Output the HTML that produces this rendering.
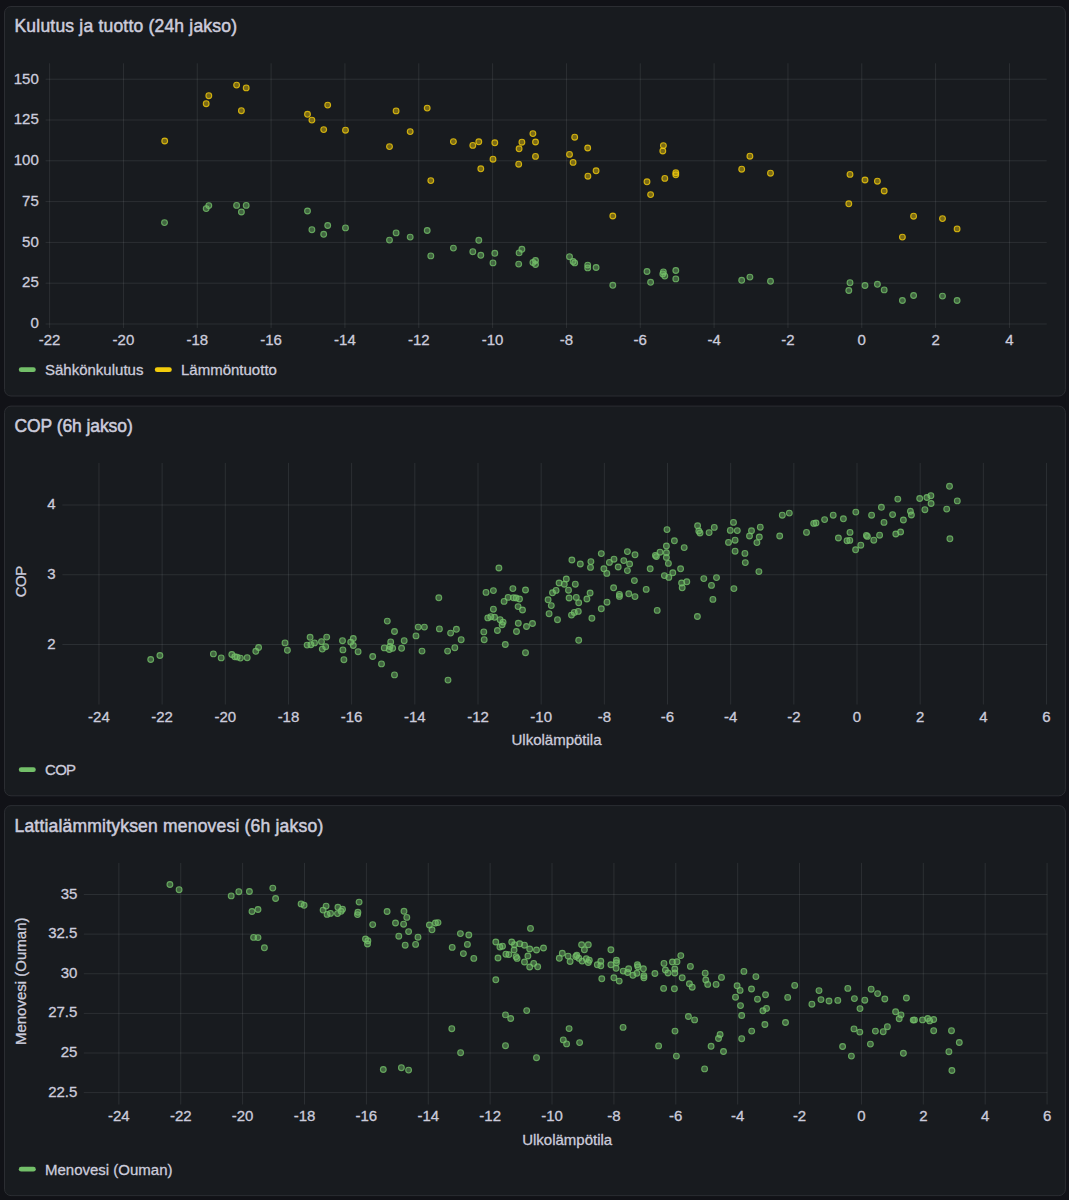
<!DOCTYPE html>
<html><head><meta charset="utf-8"><style>
html,body{margin:0;padding:0;background:#111217;width:1069px;height:1200px;overflow:hidden}
svg{display:block;font-family:"Liberation Sans", sans-serif}
text{fill:#ccccdc;stroke:#ccccdc;stroke-width:0.3px}
.ttl{stroke-width:0.5px}
</style></head><body>
<svg width="1069" height="1200" viewBox="0 0 1069 1200">
<rect x="4.5" y="6.5" width="1060.9" height="389.5" rx="6.5" ry="6.5" fill="#181b1f" stroke="#2b2d32" stroke-width="1"/>
<text x="14.5" y="31.8" font-size="17.5" letter-spacing="0.2" class="ttl">Kulutus ja tuotto (24h jakso)</text>
<line x1="49.60" y1="63.30" x2="49.60" y2="328.00" stroke="rgba(240,250,255,0.09)" stroke-width="1"/>
<text x="49.60" y="344.50" text-anchor="middle" font-size="15" >-22</text>
<line x1="123.43" y1="63.30" x2="123.43" y2="328.00" stroke="rgba(240,250,255,0.09)" stroke-width="1"/>
<text x="123.43" y="344.50" text-anchor="middle" font-size="15" >-20</text>
<line x1="197.26" y1="63.30" x2="197.26" y2="328.00" stroke="rgba(240,250,255,0.09)" stroke-width="1"/>
<text x="197.26" y="344.50" text-anchor="middle" font-size="15" >-18</text>
<line x1="271.10" y1="63.30" x2="271.10" y2="328.00" stroke="rgba(240,250,255,0.09)" stroke-width="1"/>
<text x="271.10" y="344.50" text-anchor="middle" font-size="15" >-16</text>
<line x1="344.93" y1="63.30" x2="344.93" y2="328.00" stroke="rgba(240,250,255,0.09)" stroke-width="1"/>
<text x="344.93" y="344.50" text-anchor="middle" font-size="15" >-14</text>
<line x1="418.77" y1="63.30" x2="418.77" y2="328.00" stroke="rgba(240,250,255,0.09)" stroke-width="1"/>
<text x="418.77" y="344.50" text-anchor="middle" font-size="15" >-12</text>
<line x1="492.60" y1="63.30" x2="492.60" y2="328.00" stroke="rgba(240,250,255,0.09)" stroke-width="1"/>
<text x="492.60" y="344.50" text-anchor="middle" font-size="15" >-10</text>
<line x1="566.43" y1="63.30" x2="566.43" y2="328.00" stroke="rgba(240,250,255,0.09)" stroke-width="1"/>
<text x="566.43" y="344.50" text-anchor="middle" font-size="15" >-8</text>
<line x1="640.27" y1="63.30" x2="640.27" y2="328.00" stroke="rgba(240,250,255,0.09)" stroke-width="1"/>
<text x="640.27" y="344.50" text-anchor="middle" font-size="15" >-6</text>
<line x1="714.10" y1="63.30" x2="714.10" y2="328.00" stroke="rgba(240,250,255,0.09)" stroke-width="1"/>
<text x="714.10" y="344.50" text-anchor="middle" font-size="15" >-4</text>
<line x1="787.94" y1="63.30" x2="787.94" y2="328.00" stroke="rgba(240,250,255,0.09)" stroke-width="1"/>
<text x="787.94" y="344.50" text-anchor="middle" font-size="15" >-2</text>
<line x1="861.77" y1="63.30" x2="861.77" y2="328.00" stroke="rgba(240,250,255,0.09)" stroke-width="1"/>
<text x="861.77" y="344.50" text-anchor="middle" font-size="15" >0</text>
<line x1="935.60" y1="63.30" x2="935.60" y2="328.00" stroke="rgba(240,250,255,0.09)" stroke-width="1"/>
<text x="935.60" y="344.50" text-anchor="middle" font-size="15" >2</text>
<line x1="1009.44" y1="63.30" x2="1009.44" y2="328.00" stroke="rgba(240,250,255,0.09)" stroke-width="1"/>
<text x="1009.44" y="344.50" text-anchor="middle" font-size="15" >4</text>
<line x1="45.60" y1="323.99" x2="1046.70" y2="323.99" stroke="rgba(240,250,255,0.09)" stroke-width="1"/>
<text x="38.80" y="328.29" text-anchor="end" font-size="15" >0</text>
<line x1="45.60" y1="283.19" x2="1046.70" y2="283.19" stroke="rgba(240,250,255,0.09)" stroke-width="1"/>
<text x="38.80" y="287.49" text-anchor="end" font-size="15" >25</text>
<line x1="45.60" y1="242.40" x2="1046.70" y2="242.40" stroke="rgba(240,250,255,0.09)" stroke-width="1"/>
<text x="38.80" y="246.70" text-anchor="end" font-size="15" >50</text>
<line x1="45.60" y1="201.60" x2="1046.70" y2="201.60" stroke="rgba(240,250,255,0.09)" stroke-width="1"/>
<text x="38.80" y="205.90" text-anchor="end" font-size="15" >75</text>
<line x1="45.60" y1="160.80" x2="1046.70" y2="160.80" stroke="rgba(240,250,255,0.09)" stroke-width="1"/>
<text x="38.80" y="165.10" text-anchor="end" font-size="15" >100</text>
<line x1="45.60" y1="120.01" x2="1046.70" y2="120.01" stroke="rgba(240,250,255,0.09)" stroke-width="1"/>
<text x="38.80" y="124.31" text-anchor="end" font-size="15" >125</text>
<line x1="45.60" y1="79.21" x2="1046.70" y2="79.21" stroke="rgba(240,250,255,0.09)" stroke-width="1"/>
<text x="38.80" y="83.51" text-anchor="end" font-size="15" >150</text>
<circle cx="164.5" cy="222.6" r="2.9" fill="#73bf69" fill-opacity="0.45" stroke="#73bf69" stroke-opacity="0.8" stroke-width="1.1"/>
<circle cx="208.8" cy="205.6" r="2.9" fill="#73bf69" fill-opacity="0.45" stroke="#73bf69" stroke-opacity="0.8" stroke-width="1.1"/>
<circle cx="206.2" cy="208.6" r="2.9" fill="#73bf69" fill-opacity="0.45" stroke="#73bf69" stroke-opacity="0.8" stroke-width="1.1"/>
<circle cx="236.6" cy="205.4" r="2.9" fill="#73bf69" fill-opacity="0.45" stroke="#73bf69" stroke-opacity="0.8" stroke-width="1.1"/>
<circle cx="246.2" cy="205.4" r="2.9" fill="#73bf69" fill-opacity="0.45" stroke="#73bf69" stroke-opacity="0.8" stroke-width="1.1"/>
<circle cx="241.4" cy="212.0" r="2.9" fill="#73bf69" fill-opacity="0.45" stroke="#73bf69" stroke-opacity="0.8" stroke-width="1.1"/>
<circle cx="307.5" cy="211.0" r="2.9" fill="#73bf69" fill-opacity="0.45" stroke="#73bf69" stroke-opacity="0.8" stroke-width="1.1"/>
<circle cx="327.7" cy="225.5" r="2.9" fill="#73bf69" fill-opacity="0.45" stroke="#73bf69" stroke-opacity="0.8" stroke-width="1.1"/>
<circle cx="311.9" cy="229.7" r="2.9" fill="#73bf69" fill-opacity="0.45" stroke="#73bf69" stroke-opacity="0.8" stroke-width="1.1"/>
<circle cx="323.7" cy="234.3" r="2.9" fill="#73bf69" fill-opacity="0.45" stroke="#73bf69" stroke-opacity="0.8" stroke-width="1.1"/>
<circle cx="345.5" cy="227.9" r="2.9" fill="#73bf69" fill-opacity="0.45" stroke="#73bf69" stroke-opacity="0.8" stroke-width="1.1"/>
<circle cx="396.1" cy="232.9" r="2.9" fill="#73bf69" fill-opacity="0.45" stroke="#73bf69" stroke-opacity="0.8" stroke-width="1.1"/>
<circle cx="389.5" cy="240.1" r="2.9" fill="#73bf69" fill-opacity="0.45" stroke="#73bf69" stroke-opacity="0.8" stroke-width="1.1"/>
<circle cx="410.2" cy="237.1" r="2.9" fill="#73bf69" fill-opacity="0.45" stroke="#73bf69" stroke-opacity="0.8" stroke-width="1.1"/>
<circle cx="427.2" cy="230.5" r="2.9" fill="#73bf69" fill-opacity="0.45" stroke="#73bf69" stroke-opacity="0.8" stroke-width="1.1"/>
<circle cx="430.8" cy="255.9" r="2.9" fill="#73bf69" fill-opacity="0.45" stroke="#73bf69" stroke-opacity="0.8" stroke-width="1.1"/>
<circle cx="453.4" cy="248.1" r="2.9" fill="#73bf69" fill-opacity="0.45" stroke="#73bf69" stroke-opacity="0.8" stroke-width="1.1"/>
<circle cx="478.8" cy="240.3" r="2.9" fill="#73bf69" fill-opacity="0.45" stroke="#73bf69" stroke-opacity="0.8" stroke-width="1.1"/>
<circle cx="472.8" cy="251.7" r="2.9" fill="#73bf69" fill-opacity="0.45" stroke="#73bf69" stroke-opacity="0.8" stroke-width="1.1"/>
<circle cx="480.8" cy="255.3" r="2.9" fill="#73bf69" fill-opacity="0.45" stroke="#73bf69" stroke-opacity="0.8" stroke-width="1.1"/>
<circle cx="494.8" cy="253.3" r="2.9" fill="#73bf69" fill-opacity="0.45" stroke="#73bf69" stroke-opacity="0.8" stroke-width="1.1"/>
<circle cx="493.0" cy="262.9" r="2.9" fill="#73bf69" fill-opacity="0.45" stroke="#73bf69" stroke-opacity="0.8" stroke-width="1.1"/>
<circle cx="521.9" cy="249.3" r="2.9" fill="#73bf69" fill-opacity="0.45" stroke="#73bf69" stroke-opacity="0.8" stroke-width="1.1"/>
<circle cx="519.1" cy="252.9" r="2.9" fill="#73bf69" fill-opacity="0.45" stroke="#73bf69" stroke-opacity="0.8" stroke-width="1.1"/>
<circle cx="518.7" cy="264.1" r="2.9" fill="#73bf69" fill-opacity="0.45" stroke="#73bf69" stroke-opacity="0.8" stroke-width="1.1"/>
<circle cx="532.9" cy="262.5" r="2.9" fill="#73bf69" fill-opacity="0.45" stroke="#73bf69" stroke-opacity="0.8" stroke-width="1.1"/>
<circle cx="535.5" cy="260.5" r="2.9" fill="#73bf69" fill-opacity="0.45" stroke="#73bf69" stroke-opacity="0.8" stroke-width="1.1"/>
<circle cx="535.5" cy="264.5" r="2.9" fill="#73bf69" fill-opacity="0.45" stroke="#73bf69" stroke-opacity="0.8" stroke-width="1.1"/>
<circle cx="569.5" cy="256.7" r="2.9" fill="#73bf69" fill-opacity="0.45" stroke="#73bf69" stroke-opacity="0.8" stroke-width="1.1"/>
<circle cx="573.1" cy="261.5" r="2.9" fill="#73bf69" fill-opacity="0.45" stroke="#73bf69" stroke-opacity="0.8" stroke-width="1.1"/>
<circle cx="574.7" cy="262.9" r="2.9" fill="#73bf69" fill-opacity="0.45" stroke="#73bf69" stroke-opacity="0.8" stroke-width="1.1"/>
<circle cx="587.7" cy="265.1" r="2.9" fill="#73bf69" fill-opacity="0.45" stroke="#73bf69" stroke-opacity="0.8" stroke-width="1.1"/>
<circle cx="587.7" cy="267.9" r="2.9" fill="#73bf69" fill-opacity="0.45" stroke="#73bf69" stroke-opacity="0.8" stroke-width="1.1"/>
<circle cx="596.1" cy="267.5" r="2.9" fill="#73bf69" fill-opacity="0.45" stroke="#73bf69" stroke-opacity="0.8" stroke-width="1.1"/>
<circle cx="612.8" cy="285.3" r="2.9" fill="#73bf69" fill-opacity="0.45" stroke="#73bf69" stroke-opacity="0.8" stroke-width="1.1"/>
<circle cx="647.0" cy="271.5" r="2.9" fill="#73bf69" fill-opacity="0.45" stroke="#73bf69" stroke-opacity="0.8" stroke-width="1.1"/>
<circle cx="650.6" cy="282.3" r="2.9" fill="#73bf69" fill-opacity="0.45" stroke="#73bf69" stroke-opacity="0.8" stroke-width="1.1"/>
<circle cx="663.4" cy="271.9" r="2.9" fill="#73bf69" fill-opacity="0.45" stroke="#73bf69" stroke-opacity="0.8" stroke-width="1.1"/>
<circle cx="662.8" cy="273.9" r="2.9" fill="#73bf69" fill-opacity="0.45" stroke="#73bf69" stroke-opacity="0.8" stroke-width="1.1"/>
<circle cx="664.8" cy="276.1" r="2.9" fill="#73bf69" fill-opacity="0.45" stroke="#73bf69" stroke-opacity="0.8" stroke-width="1.1"/>
<circle cx="675.8" cy="270.5" r="2.9" fill="#73bf69" fill-opacity="0.45" stroke="#73bf69" stroke-opacity="0.8" stroke-width="1.1"/>
<circle cx="675.8" cy="278.9" r="2.9" fill="#73bf69" fill-opacity="0.45" stroke="#73bf69" stroke-opacity="0.8" stroke-width="1.1"/>
<circle cx="741.7" cy="280.3" r="2.9" fill="#73bf69" fill-opacity="0.45" stroke="#73bf69" stroke-opacity="0.8" stroke-width="1.1"/>
<circle cx="749.9" cy="277.1" r="2.9" fill="#73bf69" fill-opacity="0.45" stroke="#73bf69" stroke-opacity="0.8" stroke-width="1.1"/>
<circle cx="770.5" cy="281.3" r="2.9" fill="#73bf69" fill-opacity="0.45" stroke="#73bf69" stroke-opacity="0.8" stroke-width="1.1"/>
<circle cx="850.0" cy="282.7" r="2.9" fill="#73bf69" fill-opacity="0.45" stroke="#73bf69" stroke-opacity="0.8" stroke-width="1.1"/>
<circle cx="848.8" cy="290.5" r="2.9" fill="#73bf69" fill-opacity="0.45" stroke="#73bf69" stroke-opacity="0.8" stroke-width="1.1"/>
<circle cx="865.0" cy="285.5" r="2.9" fill="#73bf69" fill-opacity="0.45" stroke="#73bf69" stroke-opacity="0.8" stroke-width="1.1"/>
<circle cx="877.4" cy="284.3" r="2.9" fill="#73bf69" fill-opacity="0.45" stroke="#73bf69" stroke-opacity="0.8" stroke-width="1.1"/>
<circle cx="884.2" cy="289.9" r="2.9" fill="#73bf69" fill-opacity="0.45" stroke="#73bf69" stroke-opacity="0.8" stroke-width="1.1"/>
<circle cx="913.6" cy="295.5" r="2.9" fill="#73bf69" fill-opacity="0.45" stroke="#73bf69" stroke-opacity="0.8" stroke-width="1.1"/>
<circle cx="902.4" cy="300.5" r="2.9" fill="#73bf69" fill-opacity="0.45" stroke="#73bf69" stroke-opacity="0.8" stroke-width="1.1"/>
<circle cx="942.5" cy="296.1" r="2.9" fill="#73bf69" fill-opacity="0.45" stroke="#73bf69" stroke-opacity="0.8" stroke-width="1.1"/>
<circle cx="957.1" cy="300.5" r="2.9" fill="#73bf69" fill-opacity="0.45" stroke="#73bf69" stroke-opacity="0.8" stroke-width="1.1"/>
<circle cx="164.7" cy="141.0" r="2.9" fill="#f2cc0c" fill-opacity="0.45" stroke="#f2cc0c" stroke-opacity="0.8" stroke-width="1.1"/>
<circle cx="208.8" cy="95.7" r="2.9" fill="#f2cc0c" fill-opacity="0.45" stroke="#f2cc0c" stroke-opacity="0.8" stroke-width="1.1"/>
<circle cx="206.2" cy="103.7" r="2.9" fill="#f2cc0c" fill-opacity="0.45" stroke="#f2cc0c" stroke-opacity="0.8" stroke-width="1.1"/>
<circle cx="236.6" cy="85.1" r="2.9" fill="#f2cc0c" fill-opacity="0.45" stroke="#f2cc0c" stroke-opacity="0.8" stroke-width="1.1"/>
<circle cx="246.2" cy="87.9" r="2.9" fill="#f2cc0c" fill-opacity="0.45" stroke="#f2cc0c" stroke-opacity="0.8" stroke-width="1.1"/>
<circle cx="241.4" cy="110.7" r="2.9" fill="#f2cc0c" fill-opacity="0.45" stroke="#f2cc0c" stroke-opacity="0.8" stroke-width="1.1"/>
<circle cx="327.7" cy="105.1" r="2.9" fill="#f2cc0c" fill-opacity="0.45" stroke="#f2cc0c" stroke-opacity="0.8" stroke-width="1.1"/>
<circle cx="307.5" cy="114.3" r="2.9" fill="#f2cc0c" fill-opacity="0.45" stroke="#f2cc0c" stroke-opacity="0.8" stroke-width="1.1"/>
<circle cx="311.9" cy="120.1" r="2.9" fill="#f2cc0c" fill-opacity="0.45" stroke="#f2cc0c" stroke-opacity="0.8" stroke-width="1.1"/>
<circle cx="323.7" cy="129.6" r="2.9" fill="#f2cc0c" fill-opacity="0.45" stroke="#f2cc0c" stroke-opacity="0.8" stroke-width="1.1"/>
<circle cx="345.5" cy="130.2" r="2.9" fill="#f2cc0c" fill-opacity="0.45" stroke="#f2cc0c" stroke-opacity="0.8" stroke-width="1.1"/>
<circle cx="396.1" cy="110.9" r="2.9" fill="#f2cc0c" fill-opacity="0.45" stroke="#f2cc0c" stroke-opacity="0.8" stroke-width="1.1"/>
<circle cx="427.2" cy="108.1" r="2.9" fill="#f2cc0c" fill-opacity="0.45" stroke="#f2cc0c" stroke-opacity="0.8" stroke-width="1.1"/>
<circle cx="410.2" cy="131.6" r="2.9" fill="#f2cc0c" fill-opacity="0.45" stroke="#f2cc0c" stroke-opacity="0.8" stroke-width="1.1"/>
<circle cx="389.5" cy="146.6" r="2.9" fill="#f2cc0c" fill-opacity="0.45" stroke="#f2cc0c" stroke-opacity="0.8" stroke-width="1.1"/>
<circle cx="430.8" cy="180.6" r="2.9" fill="#f2cc0c" fill-opacity="0.45" stroke="#f2cc0c" stroke-opacity="0.8" stroke-width="1.1"/>
<circle cx="453.4" cy="141.6" r="2.9" fill="#f2cc0c" fill-opacity="0.45" stroke="#f2cc0c" stroke-opacity="0.8" stroke-width="1.1"/>
<circle cx="472.8" cy="145.4" r="2.9" fill="#f2cc0c" fill-opacity="0.45" stroke="#f2cc0c" stroke-opacity="0.8" stroke-width="1.1"/>
<circle cx="478.8" cy="141.8" r="2.9" fill="#f2cc0c" fill-opacity="0.45" stroke="#f2cc0c" stroke-opacity="0.8" stroke-width="1.1"/>
<circle cx="494.8" cy="142.8" r="2.9" fill="#f2cc0c" fill-opacity="0.45" stroke="#f2cc0c" stroke-opacity="0.8" stroke-width="1.1"/>
<circle cx="480.8" cy="168.8" r="2.9" fill="#f2cc0c" fill-opacity="0.45" stroke="#f2cc0c" stroke-opacity="0.8" stroke-width="1.1"/>
<circle cx="493.0" cy="159.2" r="2.9" fill="#f2cc0c" fill-opacity="0.45" stroke="#f2cc0c" stroke-opacity="0.8" stroke-width="1.1"/>
<circle cx="532.9" cy="133.6" r="2.9" fill="#f2cc0c" fill-opacity="0.45" stroke="#f2cc0c" stroke-opacity="0.8" stroke-width="1.1"/>
<circle cx="521.9" cy="142.2" r="2.9" fill="#f2cc0c" fill-opacity="0.45" stroke="#f2cc0c" stroke-opacity="0.8" stroke-width="1.1"/>
<circle cx="535.5" cy="142.0" r="2.9" fill="#f2cc0c" fill-opacity="0.45" stroke="#f2cc0c" stroke-opacity="0.8" stroke-width="1.1"/>
<circle cx="519.1" cy="148.8" r="2.9" fill="#f2cc0c" fill-opacity="0.45" stroke="#f2cc0c" stroke-opacity="0.8" stroke-width="1.1"/>
<circle cx="535.5" cy="156.4" r="2.9" fill="#f2cc0c" fill-opacity="0.45" stroke="#f2cc0c" stroke-opacity="0.8" stroke-width="1.1"/>
<circle cx="518.7" cy="164.2" r="2.9" fill="#f2cc0c" fill-opacity="0.45" stroke="#f2cc0c" stroke-opacity="0.8" stroke-width="1.1"/>
<circle cx="569.5" cy="154.4" r="2.9" fill="#f2cc0c" fill-opacity="0.45" stroke="#f2cc0c" stroke-opacity="0.8" stroke-width="1.1"/>
<circle cx="574.7" cy="137.2" r="2.9" fill="#f2cc0c" fill-opacity="0.45" stroke="#f2cc0c" stroke-opacity="0.8" stroke-width="1.1"/>
<circle cx="573.1" cy="162.4" r="2.9" fill="#f2cc0c" fill-opacity="0.45" stroke="#f2cc0c" stroke-opacity="0.8" stroke-width="1.1"/>
<circle cx="587.7" cy="148.0" r="2.9" fill="#f2cc0c" fill-opacity="0.45" stroke="#f2cc0c" stroke-opacity="0.8" stroke-width="1.1"/>
<circle cx="596.1" cy="170.8" r="2.9" fill="#f2cc0c" fill-opacity="0.45" stroke="#f2cc0c" stroke-opacity="0.8" stroke-width="1.1"/>
<circle cx="587.9" cy="176.2" r="2.9" fill="#f2cc0c" fill-opacity="0.45" stroke="#f2cc0c" stroke-opacity="0.8" stroke-width="1.1"/>
<circle cx="612.8" cy="216.0" r="2.9" fill="#f2cc0c" fill-opacity="0.45" stroke="#f2cc0c" stroke-opacity="0.8" stroke-width="1.1"/>
<circle cx="663.4" cy="145.6" r="2.9" fill="#f2cc0c" fill-opacity="0.45" stroke="#f2cc0c" stroke-opacity="0.8" stroke-width="1.1"/>
<circle cx="662.8" cy="151.0" r="2.9" fill="#f2cc0c" fill-opacity="0.45" stroke="#f2cc0c" stroke-opacity="0.8" stroke-width="1.1"/>
<circle cx="647.0" cy="181.8" r="2.9" fill="#f2cc0c" fill-opacity="0.45" stroke="#f2cc0c" stroke-opacity="0.8" stroke-width="1.1"/>
<circle cx="650.6" cy="194.6" r="2.9" fill="#f2cc0c" fill-opacity="0.45" stroke="#f2cc0c" stroke-opacity="0.8" stroke-width="1.1"/>
<circle cx="664.8" cy="178.4" r="2.9" fill="#f2cc0c" fill-opacity="0.45" stroke="#f2cc0c" stroke-opacity="0.8" stroke-width="1.1"/>
<circle cx="675.8" cy="172.8" r="2.9" fill="#f2cc0c" fill-opacity="0.45" stroke="#f2cc0c" stroke-opacity="0.8" stroke-width="1.1"/>
<circle cx="675.8" cy="174.8" r="2.9" fill="#f2cc0c" fill-opacity="0.45" stroke="#f2cc0c" stroke-opacity="0.8" stroke-width="1.1"/>
<circle cx="741.7" cy="169.2" r="2.9" fill="#f2cc0c" fill-opacity="0.45" stroke="#f2cc0c" stroke-opacity="0.8" stroke-width="1.1"/>
<circle cx="749.9" cy="156.2" r="2.9" fill="#f2cc0c" fill-opacity="0.45" stroke="#f2cc0c" stroke-opacity="0.8" stroke-width="1.1"/>
<circle cx="770.5" cy="173.2" r="2.9" fill="#f2cc0c" fill-opacity="0.45" stroke="#f2cc0c" stroke-opacity="0.8" stroke-width="1.1"/>
<circle cx="850.0" cy="174.4" r="2.9" fill="#f2cc0c" fill-opacity="0.45" stroke="#f2cc0c" stroke-opacity="0.8" stroke-width="1.1"/>
<circle cx="848.8" cy="203.8" r="2.9" fill="#f2cc0c" fill-opacity="0.45" stroke="#f2cc0c" stroke-opacity="0.8" stroke-width="1.1"/>
<circle cx="865.0" cy="180.0" r="2.9" fill="#f2cc0c" fill-opacity="0.45" stroke="#f2cc0c" stroke-opacity="0.8" stroke-width="1.1"/>
<circle cx="877.4" cy="181.2" r="2.9" fill="#f2cc0c" fill-opacity="0.45" stroke="#f2cc0c" stroke-opacity="0.8" stroke-width="1.1"/>
<circle cx="884.2" cy="191.0" r="2.9" fill="#f2cc0c" fill-opacity="0.45" stroke="#f2cc0c" stroke-opacity="0.8" stroke-width="1.1"/>
<circle cx="913.6" cy="216.2" r="2.9" fill="#f2cc0c" fill-opacity="0.45" stroke="#f2cc0c" stroke-opacity="0.8" stroke-width="1.1"/>
<circle cx="902.4" cy="237.1" r="2.9" fill="#f2cc0c" fill-opacity="0.45" stroke="#f2cc0c" stroke-opacity="0.8" stroke-width="1.1"/>
<circle cx="942.5" cy="218.6" r="2.9" fill="#f2cc0c" fill-opacity="0.45" stroke="#f2cc0c" stroke-opacity="0.8" stroke-width="1.1"/>
<circle cx="957.1" cy="228.9" r="2.9" fill="#f2cc0c" fill-opacity="0.45" stroke="#f2cc0c" stroke-opacity="0.8" stroke-width="1.1"/>
<rect x="18.8" y="367.3" width="17" height="4.8" rx="2.4" fill="#73bf69"/>
<text x="45.00" y="375.30" text-anchor="start" font-size="15" >Sähkönkulutus</text>
<rect x="154.8" y="367.3" width="17" height="4.8" rx="2.4" fill="#f2cc0c"/>
<text x="181.00" y="375.30" text-anchor="start" font-size="15" >Lämmöntuotto</text>
<rect x="4.5" y="406.1" width="1060.9" height="389.69999999999993" rx="6.5" ry="6.5" fill="#181b1f" stroke="#2b2d32" stroke-width="1"/>
<text x="14.5" y="431.6" font-size="17.5" letter-spacing="-0.08" class="ttl">COP (6h jakso)</text>
<line x1="98.96" y1="462.90" x2="98.96" y2="704.50" stroke="rgba(240,250,255,0.09)" stroke-width="1"/>
<text x="98.96" y="721.80" text-anchor="middle" font-size="15" >-24</text>
<line x1="162.13" y1="462.90" x2="162.13" y2="704.50" stroke="rgba(240,250,255,0.09)" stroke-width="1"/>
<text x="162.13" y="721.80" text-anchor="middle" font-size="15" >-22</text>
<line x1="225.30" y1="462.90" x2="225.30" y2="704.50" stroke="rgba(240,250,255,0.09)" stroke-width="1"/>
<text x="225.30" y="721.80" text-anchor="middle" font-size="15" >-20</text>
<line x1="288.47" y1="462.90" x2="288.47" y2="704.50" stroke="rgba(240,250,255,0.09)" stroke-width="1"/>
<text x="288.47" y="721.80" text-anchor="middle" font-size="15" >-18</text>
<line x1="351.64" y1="462.90" x2="351.64" y2="704.50" stroke="rgba(240,250,255,0.09)" stroke-width="1"/>
<text x="351.64" y="721.80" text-anchor="middle" font-size="15" >-16</text>
<line x1="414.82" y1="462.90" x2="414.82" y2="704.50" stroke="rgba(240,250,255,0.09)" stroke-width="1"/>
<text x="414.82" y="721.80" text-anchor="middle" font-size="15" >-14</text>
<line x1="477.99" y1="462.90" x2="477.99" y2="704.50" stroke="rgba(240,250,255,0.09)" stroke-width="1"/>
<text x="477.99" y="721.80" text-anchor="middle" font-size="15" >-12</text>
<line x1="541.16" y1="462.90" x2="541.16" y2="704.50" stroke="rgba(240,250,255,0.09)" stroke-width="1"/>
<text x="541.16" y="721.80" text-anchor="middle" font-size="15" >-10</text>
<line x1="604.33" y1="462.90" x2="604.33" y2="704.50" stroke="rgba(240,250,255,0.09)" stroke-width="1"/>
<text x="604.33" y="721.80" text-anchor="middle" font-size="15" >-8</text>
<line x1="667.50" y1="462.90" x2="667.50" y2="704.50" stroke="rgba(240,250,255,0.09)" stroke-width="1"/>
<text x="667.50" y="721.80" text-anchor="middle" font-size="15" >-6</text>
<line x1="730.68" y1="462.90" x2="730.68" y2="704.50" stroke="rgba(240,250,255,0.09)" stroke-width="1"/>
<text x="730.68" y="721.80" text-anchor="middle" font-size="15" >-4</text>
<line x1="793.85" y1="462.90" x2="793.85" y2="704.50" stroke="rgba(240,250,255,0.09)" stroke-width="1"/>
<text x="793.85" y="721.80" text-anchor="middle" font-size="15" >-2</text>
<line x1="857.02" y1="462.90" x2="857.02" y2="704.50" stroke="rgba(240,250,255,0.09)" stroke-width="1"/>
<text x="857.02" y="721.80" text-anchor="middle" font-size="15" >0</text>
<line x1="920.19" y1="462.90" x2="920.19" y2="704.50" stroke="rgba(240,250,255,0.09)" stroke-width="1"/>
<text x="920.19" y="721.80" text-anchor="middle" font-size="15" >2</text>
<line x1="983.36" y1="462.90" x2="983.36" y2="704.50" stroke="rgba(240,250,255,0.09)" stroke-width="1"/>
<text x="983.36" y="721.80" text-anchor="middle" font-size="15" >4</text>
<line x1="1046.54" y1="462.90" x2="1046.54" y2="704.50" stroke="rgba(240,250,255,0.09)" stroke-width="1"/>
<text x="1046.54" y="721.80" text-anchor="middle" font-size="15" >6</text>
<line x1="62.40" y1="644.50" x2="1047.40" y2="644.50" stroke="rgba(240,250,255,0.09)" stroke-width="1"/>
<text x="55.60" y="648.80" text-anchor="end" font-size="15" >2</text>
<line x1="62.40" y1="574.75" x2="1047.40" y2="574.75" stroke="rgba(240,250,255,0.09)" stroke-width="1"/>
<text x="55.60" y="579.05" text-anchor="end" font-size="15" >3</text>
<line x1="62.40" y1="505.00" x2="1047.40" y2="505.00" stroke="rgba(240,250,255,0.09)" stroke-width="1"/>
<text x="55.60" y="509.30" text-anchor="end" font-size="15" >4</text>
<text x="556.50" y="744.60" text-anchor="middle" font-size="15" >Ulkolämpötila</text>
<text transform="translate(26.3,581.8) rotate(-90)" text-anchor="middle" font-size="15" letter-spacing="-0.6">COP</text>
<circle cx="150.7" cy="659.5" r="2.9" fill="#73bf69" fill-opacity="0.45" stroke="#73bf69" stroke-opacity="0.8" stroke-width="1.1"/>
<circle cx="159.9" cy="655.5" r="2.9" fill="#73bf69" fill-opacity="0.45" stroke="#73bf69" stroke-opacity="0.8" stroke-width="1.1"/>
<circle cx="213.4" cy="653.9" r="2.9" fill="#73bf69" fill-opacity="0.45" stroke="#73bf69" stroke-opacity="0.8" stroke-width="1.1"/>
<circle cx="221.2" cy="657.9" r="2.9" fill="#73bf69" fill-opacity="0.45" stroke="#73bf69" stroke-opacity="0.8" stroke-width="1.1"/>
<circle cx="231.8" cy="654.5" r="2.9" fill="#73bf69" fill-opacity="0.45" stroke="#73bf69" stroke-opacity="0.8" stroke-width="1.1"/>
<circle cx="234.8" cy="656.7" r="2.9" fill="#73bf69" fill-opacity="0.45" stroke="#73bf69" stroke-opacity="0.8" stroke-width="1.1"/>
<circle cx="237.2" cy="657.1" r="2.9" fill="#73bf69" fill-opacity="0.45" stroke="#73bf69" stroke-opacity="0.8" stroke-width="1.1"/>
<circle cx="240.4" cy="658.1" r="2.9" fill="#73bf69" fill-opacity="0.45" stroke="#73bf69" stroke-opacity="0.8" stroke-width="1.1"/>
<circle cx="247.2" cy="657.7" r="2.9" fill="#73bf69" fill-opacity="0.45" stroke="#73bf69" stroke-opacity="0.8" stroke-width="1.1"/>
<circle cx="255.8" cy="651.3" r="2.9" fill="#73bf69" fill-opacity="0.45" stroke="#73bf69" stroke-opacity="0.8" stroke-width="1.1"/>
<circle cx="258.6" cy="647.5" r="2.9" fill="#73bf69" fill-opacity="0.45" stroke="#73bf69" stroke-opacity="0.8" stroke-width="1.1"/>
<circle cx="285.0" cy="642.9" r="2.9" fill="#73bf69" fill-opacity="0.45" stroke="#73bf69" stroke-opacity="0.8" stroke-width="1.1"/>
<circle cx="287.4" cy="650.3" r="2.9" fill="#73bf69" fill-opacity="0.45" stroke="#73bf69" stroke-opacity="0.8" stroke-width="1.1"/>
<circle cx="310.1" cy="637.3" r="2.9" fill="#73bf69" fill-opacity="0.45" stroke="#73bf69" stroke-opacity="0.8" stroke-width="1.1"/>
<circle cx="307.1" cy="645.1" r="2.9" fill="#73bf69" fill-opacity="0.45" stroke="#73bf69" stroke-opacity="0.8" stroke-width="1.1"/>
<circle cx="310.9" cy="644.7" r="2.9" fill="#73bf69" fill-opacity="0.45" stroke="#73bf69" stroke-opacity="0.8" stroke-width="1.1"/>
<circle cx="314.5" cy="642.9" r="2.9" fill="#73bf69" fill-opacity="0.45" stroke="#73bf69" stroke-opacity="0.8" stroke-width="1.1"/>
<circle cx="321.5" cy="641.7" r="2.9" fill="#73bf69" fill-opacity="0.45" stroke="#73bf69" stroke-opacity="0.8" stroke-width="1.1"/>
<circle cx="326.7" cy="637.1" r="2.9" fill="#73bf69" fill-opacity="0.45" stroke="#73bf69" stroke-opacity="0.8" stroke-width="1.1"/>
<circle cx="325.7" cy="646.7" r="2.9" fill="#73bf69" fill-opacity="0.45" stroke="#73bf69" stroke-opacity="0.8" stroke-width="1.1"/>
<circle cx="322.3" cy="649.1" r="2.9" fill="#73bf69" fill-opacity="0.45" stroke="#73bf69" stroke-opacity="0.8" stroke-width="1.1"/>
<circle cx="342.5" cy="640.7" r="2.9" fill="#73bf69" fill-opacity="0.45" stroke="#73bf69" stroke-opacity="0.8" stroke-width="1.1"/>
<circle cx="342.9" cy="649.9" r="2.9" fill="#73bf69" fill-opacity="0.45" stroke="#73bf69" stroke-opacity="0.8" stroke-width="1.1"/>
<circle cx="343.9" cy="659.7" r="2.9" fill="#73bf69" fill-opacity="0.45" stroke="#73bf69" stroke-opacity="0.8" stroke-width="1.1"/>
<circle cx="353.3" cy="638.5" r="2.9" fill="#73bf69" fill-opacity="0.45" stroke="#73bf69" stroke-opacity="0.8" stroke-width="1.1"/>
<circle cx="350.7" cy="642.1" r="2.9" fill="#73bf69" fill-opacity="0.45" stroke="#73bf69" stroke-opacity="0.8" stroke-width="1.1"/>
<circle cx="353.3" cy="645.5" r="2.9" fill="#73bf69" fill-opacity="0.45" stroke="#73bf69" stroke-opacity="0.8" stroke-width="1.1"/>
<circle cx="358.1" cy="651.7" r="2.9" fill="#73bf69" fill-opacity="0.45" stroke="#73bf69" stroke-opacity="0.8" stroke-width="1.1"/>
<circle cx="372.7" cy="656.5" r="2.9" fill="#73bf69" fill-opacity="0.45" stroke="#73bf69" stroke-opacity="0.8" stroke-width="1.1"/>
<circle cx="381.5" cy="663.9" r="2.9" fill="#73bf69" fill-opacity="0.45" stroke="#73bf69" stroke-opacity="0.8" stroke-width="1.1"/>
<circle cx="394.5" cy="674.9" r="2.9" fill="#73bf69" fill-opacity="0.45" stroke="#73bf69" stroke-opacity="0.8" stroke-width="1.1"/>
<circle cx="387.3" cy="621.1" r="2.9" fill="#73bf69" fill-opacity="0.45" stroke="#73bf69" stroke-opacity="0.8" stroke-width="1.1"/>
<circle cx="394.5" cy="631.5" r="2.9" fill="#73bf69" fill-opacity="0.45" stroke="#73bf69" stroke-opacity="0.8" stroke-width="1.1"/>
<circle cx="390.7" cy="641.9" r="2.9" fill="#73bf69" fill-opacity="0.45" stroke="#73bf69" stroke-opacity="0.8" stroke-width="1.1"/>
<circle cx="384.3" cy="647.9" r="2.9" fill="#73bf69" fill-opacity="0.45" stroke="#73bf69" stroke-opacity="0.8" stroke-width="1.1"/>
<circle cx="389.3" cy="649.5" r="2.9" fill="#73bf69" fill-opacity="0.45" stroke="#73bf69" stroke-opacity="0.8" stroke-width="1.1"/>
<circle cx="392.7" cy="648.3" r="2.9" fill="#73bf69" fill-opacity="0.45" stroke="#73bf69" stroke-opacity="0.8" stroke-width="1.1"/>
<circle cx="389.9" cy="646.5" r="2.9" fill="#73bf69" fill-opacity="0.45" stroke="#73bf69" stroke-opacity="0.8" stroke-width="1.1"/>
<circle cx="401.6" cy="648.3" r="2.9" fill="#73bf69" fill-opacity="0.45" stroke="#73bf69" stroke-opacity="0.8" stroke-width="1.1"/>
<circle cx="404.2" cy="640.7" r="2.9" fill="#73bf69" fill-opacity="0.45" stroke="#73bf69" stroke-opacity="0.8" stroke-width="1.1"/>
<circle cx="416.0" cy="635.9" r="2.9" fill="#73bf69" fill-opacity="0.45" stroke="#73bf69" stroke-opacity="0.8" stroke-width="1.1"/>
<circle cx="418.2" cy="627.1" r="2.9" fill="#73bf69" fill-opacity="0.45" stroke="#73bf69" stroke-opacity="0.8" stroke-width="1.1"/>
<circle cx="424.4" cy="627.1" r="2.9" fill="#73bf69" fill-opacity="0.45" stroke="#73bf69" stroke-opacity="0.8" stroke-width="1.1"/>
<circle cx="422.0" cy="651.1" r="2.9" fill="#73bf69" fill-opacity="0.45" stroke="#73bf69" stroke-opacity="0.8" stroke-width="1.1"/>
<circle cx="438.8" cy="597.8" r="2.9" fill="#73bf69" fill-opacity="0.45" stroke="#73bf69" stroke-opacity="0.8" stroke-width="1.1"/>
<circle cx="439.4" cy="628.9" r="2.9" fill="#73bf69" fill-opacity="0.45" stroke="#73bf69" stroke-opacity="0.8" stroke-width="1.1"/>
<circle cx="450.6" cy="633.1" r="2.9" fill="#73bf69" fill-opacity="0.45" stroke="#73bf69" stroke-opacity="0.8" stroke-width="1.1"/>
<circle cx="456.4" cy="629.3" r="2.9" fill="#73bf69" fill-opacity="0.45" stroke="#73bf69" stroke-opacity="0.8" stroke-width="1.1"/>
<circle cx="461.2" cy="639.7" r="2.9" fill="#73bf69" fill-opacity="0.45" stroke="#73bf69" stroke-opacity="0.8" stroke-width="1.1"/>
<circle cx="447.6" cy="651.1" r="2.9" fill="#73bf69" fill-opacity="0.45" stroke="#73bf69" stroke-opacity="0.8" stroke-width="1.1"/>
<circle cx="454.8" cy="647.7" r="2.9" fill="#73bf69" fill-opacity="0.45" stroke="#73bf69" stroke-opacity="0.8" stroke-width="1.1"/>
<circle cx="448.0" cy="680.1" r="2.9" fill="#73bf69" fill-opacity="0.45" stroke="#73bf69" stroke-opacity="0.8" stroke-width="1.1"/>
<circle cx="498.9" cy="568.0" r="2.9" fill="#73bf69" fill-opacity="0.45" stroke="#73bf69" stroke-opacity="0.8" stroke-width="1.1"/>
<circle cx="486.0" cy="592.4" r="2.9" fill="#73bf69" fill-opacity="0.45" stroke="#73bf69" stroke-opacity="0.8" stroke-width="1.1"/>
<circle cx="493.4" cy="590.6" r="2.9" fill="#73bf69" fill-opacity="0.45" stroke="#73bf69" stroke-opacity="0.8" stroke-width="1.1"/>
<circle cx="512.9" cy="588.6" r="2.9" fill="#73bf69" fill-opacity="0.45" stroke="#73bf69" stroke-opacity="0.8" stroke-width="1.1"/>
<circle cx="525.5" cy="590.0" r="2.9" fill="#73bf69" fill-opacity="0.45" stroke="#73bf69" stroke-opacity="0.8" stroke-width="1.1"/>
<circle cx="508.1" cy="597.4" r="2.9" fill="#73bf69" fill-opacity="0.45" stroke="#73bf69" stroke-opacity="0.8" stroke-width="1.1"/>
<circle cx="504.1" cy="601.4" r="2.9" fill="#73bf69" fill-opacity="0.45" stroke="#73bf69" stroke-opacity="0.8" stroke-width="1.1"/>
<circle cx="513.5" cy="597.8" r="2.9" fill="#73bf69" fill-opacity="0.45" stroke="#73bf69" stroke-opacity="0.8" stroke-width="1.1"/>
<circle cx="516.1" cy="598.0" r="2.9" fill="#73bf69" fill-opacity="0.45" stroke="#73bf69" stroke-opacity="0.8" stroke-width="1.1"/>
<circle cx="519.5" cy="599.0" r="2.9" fill="#73bf69" fill-opacity="0.45" stroke="#73bf69" stroke-opacity="0.8" stroke-width="1.1"/>
<circle cx="518.1" cy="606.6" r="2.9" fill="#73bf69" fill-opacity="0.45" stroke="#73bf69" stroke-opacity="0.8" stroke-width="1.1"/>
<circle cx="522.5" cy="610.0" r="2.9" fill="#73bf69" fill-opacity="0.45" stroke="#73bf69" stroke-opacity="0.8" stroke-width="1.1"/>
<circle cx="493.4" cy="609.2" r="2.9" fill="#73bf69" fill-opacity="0.45" stroke="#73bf69" stroke-opacity="0.8" stroke-width="1.1"/>
<circle cx="487.8" cy="617.9" r="2.9" fill="#73bf69" fill-opacity="0.45" stroke="#73bf69" stroke-opacity="0.8" stroke-width="1.1"/>
<circle cx="490.8" cy="616.7" r="2.9" fill="#73bf69" fill-opacity="0.45" stroke="#73bf69" stroke-opacity="0.8" stroke-width="1.1"/>
<circle cx="494.6" cy="617.3" r="2.9" fill="#73bf69" fill-opacity="0.45" stroke="#73bf69" stroke-opacity="0.8" stroke-width="1.1"/>
<circle cx="500.1" cy="619.7" r="2.9" fill="#73bf69" fill-opacity="0.45" stroke="#73bf69" stroke-opacity="0.8" stroke-width="1.1"/>
<circle cx="503.1" cy="622.1" r="2.9" fill="#73bf69" fill-opacity="0.45" stroke="#73bf69" stroke-opacity="0.8" stroke-width="1.1"/>
<circle cx="502.1" cy="624.7" r="2.9" fill="#73bf69" fill-opacity="0.45" stroke="#73bf69" stroke-opacity="0.8" stroke-width="1.1"/>
<circle cx="518.3" cy="623.3" r="2.9" fill="#73bf69" fill-opacity="0.45" stroke="#73bf69" stroke-opacity="0.8" stroke-width="1.1"/>
<circle cx="526.5" cy="626.5" r="2.9" fill="#73bf69" fill-opacity="0.45" stroke="#73bf69" stroke-opacity="0.8" stroke-width="1.1"/>
<circle cx="532.5" cy="623.5" r="2.9" fill="#73bf69" fill-opacity="0.45" stroke="#73bf69" stroke-opacity="0.8" stroke-width="1.1"/>
<circle cx="483.8" cy="631.9" r="2.9" fill="#73bf69" fill-opacity="0.45" stroke="#73bf69" stroke-opacity="0.8" stroke-width="1.1"/>
<circle cx="484.2" cy="639.7" r="2.9" fill="#73bf69" fill-opacity="0.45" stroke="#73bf69" stroke-opacity="0.8" stroke-width="1.1"/>
<circle cx="497.4" cy="630.5" r="2.9" fill="#73bf69" fill-opacity="0.45" stroke="#73bf69" stroke-opacity="0.8" stroke-width="1.1"/>
<circle cx="516.5" cy="631.5" r="2.9" fill="#73bf69" fill-opacity="0.45" stroke="#73bf69" stroke-opacity="0.8" stroke-width="1.1"/>
<circle cx="505.3" cy="644.5" r="2.9" fill="#73bf69" fill-opacity="0.45" stroke="#73bf69" stroke-opacity="0.8" stroke-width="1.1"/>
<circle cx="525.5" cy="652.7" r="2.9" fill="#73bf69" fill-opacity="0.45" stroke="#73bf69" stroke-opacity="0.8" stroke-width="1.1"/>
<circle cx="548.1" cy="599.8" r="2.9" fill="#73bf69" fill-opacity="0.45" stroke="#73bf69" stroke-opacity="0.8" stroke-width="1.1"/>
<circle cx="551.3" cy="605.6" r="2.9" fill="#73bf69" fill-opacity="0.45" stroke="#73bf69" stroke-opacity="0.8" stroke-width="1.1"/>
<circle cx="549.1" cy="613.7" r="2.9" fill="#73bf69" fill-opacity="0.45" stroke="#73bf69" stroke-opacity="0.8" stroke-width="1.1"/>
<circle cx="557.5" cy="619.7" r="2.9" fill="#73bf69" fill-opacity="0.45" stroke="#73bf69" stroke-opacity="0.8" stroke-width="1.1"/>
<circle cx="552.5" cy="592.8" r="2.9" fill="#73bf69" fill-opacity="0.45" stroke="#73bf69" stroke-opacity="0.8" stroke-width="1.1"/>
<circle cx="556.1" cy="590.4" r="2.9" fill="#73bf69" fill-opacity="0.45" stroke="#73bf69" stroke-opacity="0.8" stroke-width="1.1"/>
<circle cx="559.1" cy="583.0" r="2.9" fill="#73bf69" fill-opacity="0.45" stroke="#73bf69" stroke-opacity="0.8" stroke-width="1.1"/>
<circle cx="564.3" cy="584.2" r="2.9" fill="#73bf69" fill-opacity="0.45" stroke="#73bf69" stroke-opacity="0.8" stroke-width="1.1"/>
<circle cx="566.3" cy="579.0" r="2.9" fill="#73bf69" fill-opacity="0.45" stroke="#73bf69" stroke-opacity="0.8" stroke-width="1.1"/>
<circle cx="575.3" cy="584.2" r="2.9" fill="#73bf69" fill-opacity="0.45" stroke="#73bf69" stroke-opacity="0.8" stroke-width="1.1"/>
<circle cx="568.5" cy="590.2" r="2.9" fill="#73bf69" fill-opacity="0.45" stroke="#73bf69" stroke-opacity="0.8" stroke-width="1.1"/>
<circle cx="569.1" cy="598.0" r="2.9" fill="#73bf69" fill-opacity="0.45" stroke="#73bf69" stroke-opacity="0.8" stroke-width="1.1"/>
<circle cx="576.3" cy="597.4" r="2.9" fill="#73bf69" fill-opacity="0.45" stroke="#73bf69" stroke-opacity="0.8" stroke-width="1.1"/>
<circle cx="578.7" cy="602.8" r="2.9" fill="#73bf69" fill-opacity="0.45" stroke="#73bf69" stroke-opacity="0.8" stroke-width="1.1"/>
<circle cx="586.9" cy="599.0" r="2.9" fill="#73bf69" fill-opacity="0.45" stroke="#73bf69" stroke-opacity="0.8" stroke-width="1.1"/>
<circle cx="590.1" cy="593.0" r="2.9" fill="#73bf69" fill-opacity="0.45" stroke="#73bf69" stroke-opacity="0.8" stroke-width="1.1"/>
<circle cx="571.5" cy="615.1" r="2.9" fill="#73bf69" fill-opacity="0.45" stroke="#73bf69" stroke-opacity="0.8" stroke-width="1.1"/>
<circle cx="574.3" cy="612.4" r="2.9" fill="#73bf69" fill-opacity="0.45" stroke="#73bf69" stroke-opacity="0.8" stroke-width="1.1"/>
<circle cx="578.3" cy="611.4" r="2.9" fill="#73bf69" fill-opacity="0.45" stroke="#73bf69" stroke-opacity="0.8" stroke-width="1.1"/>
<circle cx="591.9" cy="618.3" r="2.9" fill="#73bf69" fill-opacity="0.45" stroke="#73bf69" stroke-opacity="0.8" stroke-width="1.1"/>
<circle cx="578.7" cy="640.3" r="2.9" fill="#73bf69" fill-opacity="0.45" stroke="#73bf69" stroke-opacity="0.8" stroke-width="1.1"/>
<circle cx="571.9" cy="560.0" r="2.9" fill="#73bf69" fill-opacity="0.45" stroke="#73bf69" stroke-opacity="0.8" stroke-width="1.1"/>
<circle cx="580.3" cy="564.0" r="2.9" fill="#73bf69" fill-opacity="0.45" stroke="#73bf69" stroke-opacity="0.8" stroke-width="1.1"/>
<circle cx="590.9" cy="561.6" r="2.9" fill="#73bf69" fill-opacity="0.45" stroke="#73bf69" stroke-opacity="0.8" stroke-width="1.1"/>
<circle cx="590.5" cy="567.4" r="2.9" fill="#73bf69" fill-opacity="0.45" stroke="#73bf69" stroke-opacity="0.8" stroke-width="1.1"/>
<circle cx="601.3" cy="553.6" r="2.9" fill="#73bf69" fill-opacity="0.45" stroke="#73bf69" stroke-opacity="0.8" stroke-width="1.1"/>
<circle cx="603.9" cy="568.8" r="2.9" fill="#73bf69" fill-opacity="0.45" stroke="#73bf69" stroke-opacity="0.8" stroke-width="1.1"/>
<circle cx="606.8" cy="573.4" r="2.9" fill="#73bf69" fill-opacity="0.45" stroke="#73bf69" stroke-opacity="0.8" stroke-width="1.1"/>
<circle cx="609.4" cy="562.4" r="2.9" fill="#73bf69" fill-opacity="0.45" stroke="#73bf69" stroke-opacity="0.8" stroke-width="1.1"/>
<circle cx="614.0" cy="559.2" r="2.9" fill="#73bf69" fill-opacity="0.45" stroke="#73bf69" stroke-opacity="0.8" stroke-width="1.1"/>
<circle cx="618.2" cy="567.0" r="2.9" fill="#73bf69" fill-opacity="0.45" stroke="#73bf69" stroke-opacity="0.8" stroke-width="1.1"/>
<circle cx="623.8" cy="560.6" r="2.9" fill="#73bf69" fill-opacity="0.45" stroke="#73bf69" stroke-opacity="0.8" stroke-width="1.1"/>
<circle cx="627.4" cy="551.6" r="2.9" fill="#73bf69" fill-opacity="0.45" stroke="#73bf69" stroke-opacity="0.8" stroke-width="1.1"/>
<circle cx="629.6" cy="564.0" r="2.9" fill="#73bf69" fill-opacity="0.45" stroke="#73bf69" stroke-opacity="0.8" stroke-width="1.1"/>
<circle cx="627.4" cy="570.6" r="2.9" fill="#73bf69" fill-opacity="0.45" stroke="#73bf69" stroke-opacity="0.8" stroke-width="1.1"/>
<circle cx="635.0" cy="554.8" r="2.9" fill="#73bf69" fill-opacity="0.45" stroke="#73bf69" stroke-opacity="0.8" stroke-width="1.1"/>
<circle cx="634.4" cy="580.6" r="2.9" fill="#73bf69" fill-opacity="0.45" stroke="#73bf69" stroke-opacity="0.8" stroke-width="1.1"/>
<circle cx="613.6" cy="587.8" r="2.9" fill="#73bf69" fill-opacity="0.45" stroke="#73bf69" stroke-opacity="0.8" stroke-width="1.1"/>
<circle cx="619.4" cy="594.4" r="2.9" fill="#73bf69" fill-opacity="0.45" stroke="#73bf69" stroke-opacity="0.8" stroke-width="1.1"/>
<circle cx="619.4" cy="596.4" r="2.9" fill="#73bf69" fill-opacity="0.45" stroke="#73bf69" stroke-opacity="0.8" stroke-width="1.1"/>
<circle cx="628.8" cy="593.8" r="2.9" fill="#73bf69" fill-opacity="0.45" stroke="#73bf69" stroke-opacity="0.8" stroke-width="1.1"/>
<circle cx="635.0" cy="596.6" r="2.9" fill="#73bf69" fill-opacity="0.45" stroke="#73bf69" stroke-opacity="0.8" stroke-width="1.1"/>
<circle cx="607.0" cy="602.2" r="2.9" fill="#73bf69" fill-opacity="0.45" stroke="#73bf69" stroke-opacity="0.8" stroke-width="1.1"/>
<circle cx="601.3" cy="608.8" r="2.9" fill="#73bf69" fill-opacity="0.45" stroke="#73bf69" stroke-opacity="0.8" stroke-width="1.1"/>
<circle cx="646.2" cy="589.4" r="2.9" fill="#73bf69" fill-opacity="0.45" stroke="#73bf69" stroke-opacity="0.8" stroke-width="1.1"/>
<circle cx="650.2" cy="568.8" r="2.9" fill="#73bf69" fill-opacity="0.45" stroke="#73bf69" stroke-opacity="0.8" stroke-width="1.1"/>
<circle cx="655.4" cy="555.4" r="2.9" fill="#73bf69" fill-opacity="0.45" stroke="#73bf69" stroke-opacity="0.8" stroke-width="1.1"/>
<circle cx="656.4" cy="556.6" r="2.9" fill="#73bf69" fill-opacity="0.45" stroke="#73bf69" stroke-opacity="0.8" stroke-width="1.1"/>
<circle cx="660.0" cy="552.2" r="2.9" fill="#73bf69" fill-opacity="0.45" stroke="#73bf69" stroke-opacity="0.8" stroke-width="1.1"/>
<circle cx="667.0" cy="529.6" r="2.9" fill="#73bf69" fill-opacity="0.45" stroke="#73bf69" stroke-opacity="0.8" stroke-width="1.1"/>
<circle cx="666.4" cy="546.0" r="2.9" fill="#73bf69" fill-opacity="0.45" stroke="#73bf69" stroke-opacity="0.8" stroke-width="1.1"/>
<circle cx="666.4" cy="552.8" r="2.9" fill="#73bf69" fill-opacity="0.45" stroke="#73bf69" stroke-opacity="0.8" stroke-width="1.1"/>
<circle cx="666.4" cy="557.4" r="2.9" fill="#73bf69" fill-opacity="0.45" stroke="#73bf69" stroke-opacity="0.8" stroke-width="1.1"/>
<circle cx="668.4" cy="563.4" r="2.9" fill="#73bf69" fill-opacity="0.45" stroke="#73bf69" stroke-opacity="0.8" stroke-width="1.1"/>
<circle cx="674.4" cy="540.8" r="2.9" fill="#73bf69" fill-opacity="0.45" stroke="#73bf69" stroke-opacity="0.8" stroke-width="1.1"/>
<circle cx="684.2" cy="547.6" r="2.9" fill="#73bf69" fill-opacity="0.45" stroke="#73bf69" stroke-opacity="0.8" stroke-width="1.1"/>
<circle cx="680.6" cy="568.8" r="2.9" fill="#73bf69" fill-opacity="0.45" stroke="#73bf69" stroke-opacity="0.8" stroke-width="1.1"/>
<circle cx="664.4" cy="575.6" r="2.9" fill="#73bf69" fill-opacity="0.45" stroke="#73bf69" stroke-opacity="0.8" stroke-width="1.1"/>
<circle cx="668.8" cy="577.4" r="2.9" fill="#73bf69" fill-opacity="0.45" stroke="#73bf69" stroke-opacity="0.8" stroke-width="1.1"/>
<circle cx="672.8" cy="572.8" r="2.9" fill="#73bf69" fill-opacity="0.45" stroke="#73bf69" stroke-opacity="0.8" stroke-width="1.1"/>
<circle cx="681.6" cy="583.0" r="2.9" fill="#73bf69" fill-opacity="0.45" stroke="#73bf69" stroke-opacity="0.8" stroke-width="1.1"/>
<circle cx="686.8" cy="581.8" r="2.9" fill="#73bf69" fill-opacity="0.45" stroke="#73bf69" stroke-opacity="0.8" stroke-width="1.1"/>
<circle cx="682.2" cy="587.8" r="2.9" fill="#73bf69" fill-opacity="0.45" stroke="#73bf69" stroke-opacity="0.8" stroke-width="1.1"/>
<circle cx="657.2" cy="610.4" r="2.9" fill="#73bf69" fill-opacity="0.45" stroke="#73bf69" stroke-opacity="0.8" stroke-width="1.1"/>
<circle cx="697.6" cy="525.8" r="2.9" fill="#73bf69" fill-opacity="0.45" stroke="#73bf69" stroke-opacity="0.8" stroke-width="1.1"/>
<circle cx="698.8" cy="531.0" r="2.9" fill="#73bf69" fill-opacity="0.45" stroke="#73bf69" stroke-opacity="0.8" stroke-width="1.1"/>
<circle cx="700.0" cy="533.0" r="2.9" fill="#73bf69" fill-opacity="0.45" stroke="#73bf69" stroke-opacity="0.8" stroke-width="1.1"/>
<circle cx="709.1" cy="532.6" r="2.9" fill="#73bf69" fill-opacity="0.45" stroke="#73bf69" stroke-opacity="0.8" stroke-width="1.1"/>
<circle cx="714.3" cy="527.4" r="2.9" fill="#73bf69" fill-opacity="0.45" stroke="#73bf69" stroke-opacity="0.8" stroke-width="1.1"/>
<circle cx="703.8" cy="578.6" r="2.9" fill="#73bf69" fill-opacity="0.45" stroke="#73bf69" stroke-opacity="0.8" stroke-width="1.1"/>
<circle cx="716.5" cy="577.6" r="2.9" fill="#73bf69" fill-opacity="0.45" stroke="#73bf69" stroke-opacity="0.8" stroke-width="1.1"/>
<circle cx="711.5" cy="585.4" r="2.9" fill="#73bf69" fill-opacity="0.45" stroke="#73bf69" stroke-opacity="0.8" stroke-width="1.1"/>
<circle cx="712.9" cy="599.4" r="2.9" fill="#73bf69" fill-opacity="0.45" stroke="#73bf69" stroke-opacity="0.8" stroke-width="1.1"/>
<circle cx="697.4" cy="616.5" r="2.9" fill="#73bf69" fill-opacity="0.45" stroke="#73bf69" stroke-opacity="0.8" stroke-width="1.1"/>
<circle cx="733.5" cy="522.4" r="2.9" fill="#73bf69" fill-opacity="0.45" stroke="#73bf69" stroke-opacity="0.8" stroke-width="1.1"/>
<circle cx="730.3" cy="530.4" r="2.9" fill="#73bf69" fill-opacity="0.45" stroke="#73bf69" stroke-opacity="0.8" stroke-width="1.1"/>
<circle cx="737.3" cy="530.6" r="2.9" fill="#73bf69" fill-opacity="0.45" stroke="#73bf69" stroke-opacity="0.8" stroke-width="1.1"/>
<circle cx="728.5" cy="542.4" r="2.9" fill="#73bf69" fill-opacity="0.45" stroke="#73bf69" stroke-opacity="0.8" stroke-width="1.1"/>
<circle cx="735.1" cy="540.2" r="2.9" fill="#73bf69" fill-opacity="0.45" stroke="#73bf69" stroke-opacity="0.8" stroke-width="1.1"/>
<circle cx="735.1" cy="551.2" r="2.9" fill="#73bf69" fill-opacity="0.45" stroke="#73bf69" stroke-opacity="0.8" stroke-width="1.1"/>
<circle cx="744.9" cy="553.4" r="2.9" fill="#73bf69" fill-opacity="0.45" stroke="#73bf69" stroke-opacity="0.8" stroke-width="1.1"/>
<circle cx="745.3" cy="562.6" r="2.9" fill="#73bf69" fill-opacity="0.45" stroke="#73bf69" stroke-opacity="0.8" stroke-width="1.1"/>
<circle cx="733.9" cy="588.6" r="2.9" fill="#73bf69" fill-opacity="0.45" stroke="#73bf69" stroke-opacity="0.8" stroke-width="1.1"/>
<circle cx="751.5" cy="530.8" r="2.9" fill="#73bf69" fill-opacity="0.45" stroke="#73bf69" stroke-opacity="0.8" stroke-width="1.1"/>
<circle cx="749.5" cy="536.0" r="2.9" fill="#73bf69" fill-opacity="0.45" stroke="#73bf69" stroke-opacity="0.8" stroke-width="1.1"/>
<circle cx="760.3" cy="527.2" r="2.9" fill="#73bf69" fill-opacity="0.45" stroke="#73bf69" stroke-opacity="0.8" stroke-width="1.1"/>
<circle cx="759.3" cy="537.0" r="2.9" fill="#73bf69" fill-opacity="0.45" stroke="#73bf69" stroke-opacity="0.8" stroke-width="1.1"/>
<circle cx="756.9" cy="542.6" r="2.9" fill="#73bf69" fill-opacity="0.45" stroke="#73bf69" stroke-opacity="0.8" stroke-width="1.1"/>
<circle cx="758.9" cy="571.6" r="2.9" fill="#73bf69" fill-opacity="0.45" stroke="#73bf69" stroke-opacity="0.8" stroke-width="1.1"/>
<circle cx="782.3" cy="515.2" r="2.9" fill="#73bf69" fill-opacity="0.45" stroke="#73bf69" stroke-opacity="0.8" stroke-width="1.1"/>
<circle cx="789.3" cy="513.1" r="2.9" fill="#73bf69" fill-opacity="0.45" stroke="#73bf69" stroke-opacity="0.8" stroke-width="1.1"/>
<circle cx="779.7" cy="536.0" r="2.9" fill="#73bf69" fill-opacity="0.45" stroke="#73bf69" stroke-opacity="0.8" stroke-width="1.1"/>
<circle cx="806.5" cy="532.4" r="2.9" fill="#73bf69" fill-opacity="0.45" stroke="#73bf69" stroke-opacity="0.8" stroke-width="1.1"/>
<circle cx="813.7" cy="523.4" r="2.9" fill="#73bf69" fill-opacity="0.45" stroke="#73bf69" stroke-opacity="0.8" stroke-width="1.1"/>
<circle cx="816.0" cy="523.0" r="2.9" fill="#73bf69" fill-opacity="0.45" stroke="#73bf69" stroke-opacity="0.8" stroke-width="1.1"/>
<circle cx="824.6" cy="519.6" r="2.9" fill="#73bf69" fill-opacity="0.45" stroke="#73bf69" stroke-opacity="0.8" stroke-width="1.1"/>
<circle cx="833.2" cy="515.2" r="2.9" fill="#73bf69" fill-opacity="0.45" stroke="#73bf69" stroke-opacity="0.8" stroke-width="1.1"/>
<circle cx="843.4" cy="518.8" r="2.9" fill="#73bf69" fill-opacity="0.45" stroke="#73bf69" stroke-opacity="0.8" stroke-width="1.1"/>
<circle cx="838.4" cy="538.0" r="2.9" fill="#73bf69" fill-opacity="0.45" stroke="#73bf69" stroke-opacity="0.8" stroke-width="1.1"/>
<circle cx="850.0" cy="532.4" r="2.9" fill="#73bf69" fill-opacity="0.45" stroke="#73bf69" stroke-opacity="0.8" stroke-width="1.1"/>
<circle cx="847.0" cy="540.8" r="2.9" fill="#73bf69" fill-opacity="0.45" stroke="#73bf69" stroke-opacity="0.8" stroke-width="1.1"/>
<circle cx="849.8" cy="540.4" r="2.9" fill="#73bf69" fill-opacity="0.45" stroke="#73bf69" stroke-opacity="0.8" stroke-width="1.1"/>
<circle cx="860.8" cy="545.2" r="2.9" fill="#73bf69" fill-opacity="0.45" stroke="#73bf69" stroke-opacity="0.8" stroke-width="1.1"/>
<circle cx="855.6" cy="549.8" r="2.9" fill="#73bf69" fill-opacity="0.45" stroke="#73bf69" stroke-opacity="0.8" stroke-width="1.1"/>
<circle cx="855.8" cy="512.1" r="2.9" fill="#73bf69" fill-opacity="0.45" stroke="#73bf69" stroke-opacity="0.8" stroke-width="1.1"/>
<circle cx="866.4" cy="535.4" r="2.9" fill="#73bf69" fill-opacity="0.45" stroke="#73bf69" stroke-opacity="0.8" stroke-width="1.1"/>
<circle cx="867.4" cy="536.4" r="2.9" fill="#73bf69" fill-opacity="0.45" stroke="#73bf69" stroke-opacity="0.8" stroke-width="1.1"/>
<circle cx="871.6" cy="515.2" r="2.9" fill="#73bf69" fill-opacity="0.45" stroke="#73bf69" stroke-opacity="0.8" stroke-width="1.1"/>
<circle cx="873.8" cy="540.2" r="2.9" fill="#73bf69" fill-opacity="0.45" stroke="#73bf69" stroke-opacity="0.8" stroke-width="1.1"/>
<circle cx="879.6" cy="535.2" r="2.9" fill="#73bf69" fill-opacity="0.45" stroke="#73bf69" stroke-opacity="0.8" stroke-width="1.1"/>
<circle cx="881.4" cy="507.3" r="2.9" fill="#73bf69" fill-opacity="0.45" stroke="#73bf69" stroke-opacity="0.8" stroke-width="1.1"/>
<circle cx="884.0" cy="522.4" r="2.9" fill="#73bf69" fill-opacity="0.45" stroke="#73bf69" stroke-opacity="0.8" stroke-width="1.1"/>
<circle cx="892.6" cy="514.6" r="2.9" fill="#73bf69" fill-opacity="0.45" stroke="#73bf69" stroke-opacity="0.8" stroke-width="1.1"/>
<circle cx="895.8" cy="534.0" r="2.9" fill="#73bf69" fill-opacity="0.45" stroke="#73bf69" stroke-opacity="0.8" stroke-width="1.1"/>
<circle cx="900.6" cy="532.0" r="2.9" fill="#73bf69" fill-opacity="0.45" stroke="#73bf69" stroke-opacity="0.8" stroke-width="1.1"/>
<circle cx="897.8" cy="499.1" r="2.9" fill="#73bf69" fill-opacity="0.45" stroke="#73bf69" stroke-opacity="0.8" stroke-width="1.1"/>
<circle cx="903.4" cy="520.0" r="2.9" fill="#73bf69" fill-opacity="0.45" stroke="#73bf69" stroke-opacity="0.8" stroke-width="1.1"/>
<circle cx="910.4" cy="511.3" r="2.9" fill="#73bf69" fill-opacity="0.45" stroke="#73bf69" stroke-opacity="0.8" stroke-width="1.1"/>
<circle cx="911.4" cy="515.0" r="2.9" fill="#73bf69" fill-opacity="0.45" stroke="#73bf69" stroke-opacity="0.8" stroke-width="1.1"/>
<circle cx="919.7" cy="498.5" r="2.9" fill="#73bf69" fill-opacity="0.45" stroke="#73bf69" stroke-opacity="0.8" stroke-width="1.1"/>
<circle cx="926.9" cy="497.5" r="2.9" fill="#73bf69" fill-opacity="0.45" stroke="#73bf69" stroke-opacity="0.8" stroke-width="1.1"/>
<circle cx="930.9" cy="495.7" r="2.9" fill="#73bf69" fill-opacity="0.45" stroke="#73bf69" stroke-opacity="0.8" stroke-width="1.1"/>
<circle cx="931.1" cy="503.5" r="2.9" fill="#73bf69" fill-opacity="0.45" stroke="#73bf69" stroke-opacity="0.8" stroke-width="1.1"/>
<circle cx="924.9" cy="509.7" r="2.9" fill="#73bf69" fill-opacity="0.45" stroke="#73bf69" stroke-opacity="0.8" stroke-width="1.1"/>
<circle cx="949.5" cy="486.3" r="2.9" fill="#73bf69" fill-opacity="0.45" stroke="#73bf69" stroke-opacity="0.8" stroke-width="1.1"/>
<circle cx="946.7" cy="509.1" r="2.9" fill="#73bf69" fill-opacity="0.45" stroke="#73bf69" stroke-opacity="0.8" stroke-width="1.1"/>
<circle cx="957.3" cy="500.9" r="2.9" fill="#73bf69" fill-opacity="0.45" stroke="#73bf69" stroke-opacity="0.8" stroke-width="1.1"/>
<circle cx="949.9" cy="538.8" r="2.9" fill="#73bf69" fill-opacity="0.45" stroke="#73bf69" stroke-opacity="0.8" stroke-width="1.1"/>
<rect x="18.8" y="767.3" width="17" height="4.8" rx="2.4" fill="#73bf69"/>
<text x="45.00" y="775.30" text-anchor="start" font-size="15" letter-spacing="-0.7">COP</text>
<rect x="4.5" y="805.6" width="1060.9" height="389.9999999999999" rx="6.5" ry="6.5" fill="#181b1f" stroke="#2b2d32" stroke-width="1"/>
<text x="14.5" y="831.6" font-size="17.5" letter-spacing="0.2" class="ttl">Lattialämmityksen menovesi (6h jakso)</text>
<line x1="118.86" y1="862.90" x2="118.86" y2="1104.50" stroke="rgba(240,250,255,0.09)" stroke-width="1"/>
<text x="118.86" y="1121.40" text-anchor="middle" font-size="15" >-24</text>
<line x1="180.74" y1="862.90" x2="180.74" y2="1104.50" stroke="rgba(240,250,255,0.09)" stroke-width="1"/>
<text x="180.74" y="1121.40" text-anchor="middle" font-size="15" >-22</text>
<line x1="242.62" y1="862.90" x2="242.62" y2="1104.50" stroke="rgba(240,250,255,0.09)" stroke-width="1"/>
<text x="242.62" y="1121.40" text-anchor="middle" font-size="15" >-20</text>
<line x1="304.50" y1="862.90" x2="304.50" y2="1104.50" stroke="rgba(240,250,255,0.09)" stroke-width="1"/>
<text x="304.50" y="1121.40" text-anchor="middle" font-size="15" >-18</text>
<line x1="366.38" y1="862.90" x2="366.38" y2="1104.50" stroke="rgba(240,250,255,0.09)" stroke-width="1"/>
<text x="366.38" y="1121.40" text-anchor="middle" font-size="15" >-16</text>
<line x1="428.27" y1="862.90" x2="428.27" y2="1104.50" stroke="rgba(240,250,255,0.09)" stroke-width="1"/>
<text x="428.27" y="1121.40" text-anchor="middle" font-size="15" >-14</text>
<line x1="490.15" y1="862.90" x2="490.15" y2="1104.50" stroke="rgba(240,250,255,0.09)" stroke-width="1"/>
<text x="490.15" y="1121.40" text-anchor="middle" font-size="15" >-12</text>
<line x1="552.03" y1="862.90" x2="552.03" y2="1104.50" stroke="rgba(240,250,255,0.09)" stroke-width="1"/>
<text x="552.03" y="1121.40" text-anchor="middle" font-size="15" >-10</text>
<line x1="613.91" y1="862.90" x2="613.91" y2="1104.50" stroke="rgba(240,250,255,0.09)" stroke-width="1"/>
<text x="613.91" y="1121.40" text-anchor="middle" font-size="15" >-8</text>
<line x1="675.79" y1="862.90" x2="675.79" y2="1104.50" stroke="rgba(240,250,255,0.09)" stroke-width="1"/>
<text x="675.79" y="1121.40" text-anchor="middle" font-size="15" >-6</text>
<line x1="737.68" y1="862.90" x2="737.68" y2="1104.50" stroke="rgba(240,250,255,0.09)" stroke-width="1"/>
<text x="737.68" y="1121.40" text-anchor="middle" font-size="15" >-4</text>
<line x1="799.56" y1="862.90" x2="799.56" y2="1104.50" stroke="rgba(240,250,255,0.09)" stroke-width="1"/>
<text x="799.56" y="1121.40" text-anchor="middle" font-size="15" >-2</text>
<line x1="861.44" y1="862.90" x2="861.44" y2="1104.50" stroke="rgba(240,250,255,0.09)" stroke-width="1"/>
<text x="861.44" y="1121.40" text-anchor="middle" font-size="15" >0</text>
<line x1="923.32" y1="862.90" x2="923.32" y2="1104.50" stroke="rgba(240,250,255,0.09)" stroke-width="1"/>
<text x="923.32" y="1121.40" text-anchor="middle" font-size="15" >2</text>
<line x1="985.20" y1="862.90" x2="985.20" y2="1104.50" stroke="rgba(240,250,255,0.09)" stroke-width="1"/>
<text x="985.20" y="1121.40" text-anchor="middle" font-size="15" >4</text>
<line x1="1047.09" y1="862.90" x2="1047.09" y2="1104.50" stroke="rgba(240,250,255,0.09)" stroke-width="1"/>
<text x="1047.09" y="1121.40" text-anchor="middle" font-size="15" >6</text>
<line x1="83.80" y1="1092.62" x2="1047.40" y2="1092.62" stroke="rgba(240,250,255,0.09)" stroke-width="1"/>
<text x="77.40" y="1096.72" text-anchor="end" font-size="15" >22.5</text>
<line x1="83.80" y1="1053.00" x2="1047.40" y2="1053.00" stroke="rgba(240,250,255,0.09)" stroke-width="1"/>
<text x="77.40" y="1057.10" text-anchor="end" font-size="15" >25</text>
<line x1="83.80" y1="1013.38" x2="1047.40" y2="1013.38" stroke="rgba(240,250,255,0.09)" stroke-width="1"/>
<text x="77.40" y="1017.48" text-anchor="end" font-size="15" >27.5</text>
<line x1="83.80" y1="973.75" x2="1047.40" y2="973.75" stroke="rgba(240,250,255,0.09)" stroke-width="1"/>
<text x="77.40" y="977.85" text-anchor="end" font-size="15" >30</text>
<line x1="83.80" y1="934.12" x2="1047.40" y2="934.12" stroke="rgba(240,250,255,0.09)" stroke-width="1"/>
<text x="77.40" y="938.23" text-anchor="end" font-size="15" >32.5</text>
<line x1="83.80" y1="894.50" x2="1047.40" y2="894.50" stroke="rgba(240,250,255,0.09)" stroke-width="1"/>
<text x="77.40" y="898.60" text-anchor="end" font-size="15" >35</text>
<text x="567.20" y="1144.60" text-anchor="middle" font-size="15" >Ulkolämpötila</text>
<text transform="translate(26.3,981.3) rotate(-90)" text-anchor="middle" font-size="15">Menovesi (Ouman)</text>
<circle cx="169.9" cy="884.5" r="2.9" fill="#73bf69" fill-opacity="0.45" stroke="#73bf69" stroke-opacity="0.8" stroke-width="1.1"/>
<circle cx="179.1" cy="889.7" r="2.9" fill="#73bf69" fill-opacity="0.45" stroke="#73bf69" stroke-opacity="0.8" stroke-width="1.1"/>
<circle cx="231.2" cy="895.9" r="2.9" fill="#73bf69" fill-opacity="0.45" stroke="#73bf69" stroke-opacity="0.8" stroke-width="1.1"/>
<circle cx="238.8" cy="891.7" r="2.9" fill="#73bf69" fill-opacity="0.45" stroke="#73bf69" stroke-opacity="0.8" stroke-width="1.1"/>
<circle cx="249.4" cy="891.5" r="2.9" fill="#73bf69" fill-opacity="0.45" stroke="#73bf69" stroke-opacity="0.8" stroke-width="1.1"/>
<circle cx="272.8" cy="888.1" r="2.9" fill="#73bf69" fill-opacity="0.45" stroke="#73bf69" stroke-opacity="0.8" stroke-width="1.1"/>
<circle cx="275.6" cy="898.5" r="2.9" fill="#73bf69" fill-opacity="0.45" stroke="#73bf69" stroke-opacity="0.8" stroke-width="1.1"/>
<circle cx="252.0" cy="911.5" r="2.9" fill="#73bf69" fill-opacity="0.45" stroke="#73bf69" stroke-opacity="0.8" stroke-width="1.1"/>
<circle cx="258.0" cy="909.5" r="2.9" fill="#73bf69" fill-opacity="0.45" stroke="#73bf69" stroke-opacity="0.8" stroke-width="1.1"/>
<circle cx="253.6" cy="937.4" r="2.9" fill="#73bf69" fill-opacity="0.45" stroke="#73bf69" stroke-opacity="0.8" stroke-width="1.1"/>
<circle cx="258.0" cy="937.6" r="2.9" fill="#73bf69" fill-opacity="0.45" stroke="#73bf69" stroke-opacity="0.8" stroke-width="1.1"/>
<circle cx="264.4" cy="947.8" r="2.9" fill="#73bf69" fill-opacity="0.45" stroke="#73bf69" stroke-opacity="0.8" stroke-width="1.1"/>
<circle cx="301.1" cy="903.9" r="2.9" fill="#73bf69" fill-opacity="0.45" stroke="#73bf69" stroke-opacity="0.8" stroke-width="1.1"/>
<circle cx="304.1" cy="905.3" r="2.9" fill="#73bf69" fill-opacity="0.45" stroke="#73bf69" stroke-opacity="0.8" stroke-width="1.1"/>
<circle cx="326.1" cy="906.1" r="2.9" fill="#73bf69" fill-opacity="0.45" stroke="#73bf69" stroke-opacity="0.8" stroke-width="1.1"/>
<circle cx="323.1" cy="910.1" r="2.9" fill="#73bf69" fill-opacity="0.45" stroke="#73bf69" stroke-opacity="0.8" stroke-width="1.1"/>
<circle cx="327.1" cy="914.4" r="2.9" fill="#73bf69" fill-opacity="0.45" stroke="#73bf69" stroke-opacity="0.8" stroke-width="1.1"/>
<circle cx="330.5" cy="913.4" r="2.9" fill="#73bf69" fill-opacity="0.45" stroke="#73bf69" stroke-opacity="0.8" stroke-width="1.1"/>
<circle cx="337.9" cy="907.3" r="2.9" fill="#73bf69" fill-opacity="0.45" stroke="#73bf69" stroke-opacity="0.8" stroke-width="1.1"/>
<circle cx="337.5" cy="913.6" r="2.9" fill="#73bf69" fill-opacity="0.45" stroke="#73bf69" stroke-opacity="0.8" stroke-width="1.1"/>
<circle cx="342.5" cy="909.3" r="2.9" fill="#73bf69" fill-opacity="0.45" stroke="#73bf69" stroke-opacity="0.8" stroke-width="1.1"/>
<circle cx="341.1" cy="911.3" r="2.9" fill="#73bf69" fill-opacity="0.45" stroke="#73bf69" stroke-opacity="0.8" stroke-width="1.1"/>
<circle cx="359.1" cy="902.1" r="2.9" fill="#73bf69" fill-opacity="0.45" stroke="#73bf69" stroke-opacity="0.8" stroke-width="1.1"/>
<circle cx="357.9" cy="912.3" r="2.9" fill="#73bf69" fill-opacity="0.45" stroke="#73bf69" stroke-opacity="0.8" stroke-width="1.1"/>
<circle cx="357.5" cy="914.6" r="2.9" fill="#73bf69" fill-opacity="0.45" stroke="#73bf69" stroke-opacity="0.8" stroke-width="1.1"/>
<circle cx="372.7" cy="924.6" r="2.9" fill="#73bf69" fill-opacity="0.45" stroke="#73bf69" stroke-opacity="0.8" stroke-width="1.1"/>
<circle cx="365.5" cy="939.0" r="2.9" fill="#73bf69" fill-opacity="0.45" stroke="#73bf69" stroke-opacity="0.8" stroke-width="1.1"/>
<circle cx="367.9" cy="940.8" r="2.9" fill="#73bf69" fill-opacity="0.45" stroke="#73bf69" stroke-opacity="0.8" stroke-width="1.1"/>
<circle cx="367.5" cy="944.0" r="2.9" fill="#73bf69" fill-opacity="0.45" stroke="#73bf69" stroke-opacity="0.8" stroke-width="1.1"/>
<circle cx="387.1" cy="911.5" r="2.9" fill="#73bf69" fill-opacity="0.45" stroke="#73bf69" stroke-opacity="0.8" stroke-width="1.1"/>
<circle cx="404.0" cy="911.3" r="2.9" fill="#73bf69" fill-opacity="0.45" stroke="#73bf69" stroke-opacity="0.8" stroke-width="1.1"/>
<circle cx="406.8" cy="917.4" r="2.9" fill="#73bf69" fill-opacity="0.45" stroke="#73bf69" stroke-opacity="0.8" stroke-width="1.1"/>
<circle cx="395.5" cy="923.0" r="2.9" fill="#73bf69" fill-opacity="0.45" stroke="#73bf69" stroke-opacity="0.8" stroke-width="1.1"/>
<circle cx="403.6" cy="924.2" r="2.9" fill="#73bf69" fill-opacity="0.45" stroke="#73bf69" stroke-opacity="0.8" stroke-width="1.1"/>
<circle cx="408.6" cy="931.6" r="2.9" fill="#73bf69" fill-opacity="0.45" stroke="#73bf69" stroke-opacity="0.8" stroke-width="1.1"/>
<circle cx="398.8" cy="936.2" r="2.9" fill="#73bf69" fill-opacity="0.45" stroke="#73bf69" stroke-opacity="0.8" stroke-width="1.1"/>
<circle cx="418.0" cy="937.2" r="2.9" fill="#73bf69" fill-opacity="0.45" stroke="#73bf69" stroke-opacity="0.8" stroke-width="1.1"/>
<circle cx="405.2" cy="945.2" r="2.9" fill="#73bf69" fill-opacity="0.45" stroke="#73bf69" stroke-opacity="0.8" stroke-width="1.1"/>
<circle cx="415.6" cy="944.4" r="2.9" fill="#73bf69" fill-opacity="0.45" stroke="#73bf69" stroke-opacity="0.8" stroke-width="1.1"/>
<circle cx="429.4" cy="925.0" r="2.9" fill="#73bf69" fill-opacity="0.45" stroke="#73bf69" stroke-opacity="0.8" stroke-width="1.1"/>
<circle cx="432.0" cy="929.8" r="2.9" fill="#73bf69" fill-opacity="0.45" stroke="#73bf69" stroke-opacity="0.8" stroke-width="1.1"/>
<circle cx="435.4" cy="923.0" r="2.9" fill="#73bf69" fill-opacity="0.45" stroke="#73bf69" stroke-opacity="0.8" stroke-width="1.1"/>
<circle cx="438.0" cy="922.6" r="2.9" fill="#73bf69" fill-opacity="0.45" stroke="#73bf69" stroke-opacity="0.8" stroke-width="1.1"/>
<circle cx="460.4" cy="933.6" r="2.9" fill="#73bf69" fill-opacity="0.45" stroke="#73bf69" stroke-opacity="0.8" stroke-width="1.1"/>
<circle cx="468.8" cy="935.0" r="2.9" fill="#73bf69" fill-opacity="0.45" stroke="#73bf69" stroke-opacity="0.8" stroke-width="1.1"/>
<circle cx="452.2" cy="947.4" r="2.9" fill="#73bf69" fill-opacity="0.45" stroke="#73bf69" stroke-opacity="0.8" stroke-width="1.1"/>
<circle cx="467.4" cy="944.4" r="2.9" fill="#73bf69" fill-opacity="0.45" stroke="#73bf69" stroke-opacity="0.8" stroke-width="1.1"/>
<circle cx="463.4" cy="953.6" r="2.9" fill="#73bf69" fill-opacity="0.45" stroke="#73bf69" stroke-opacity="0.8" stroke-width="1.1"/>
<circle cx="473.8" cy="958.4" r="2.9" fill="#73bf69" fill-opacity="0.45" stroke="#73bf69" stroke-opacity="0.8" stroke-width="1.1"/>
<circle cx="495.8" cy="942.0" r="2.9" fill="#73bf69" fill-opacity="0.45" stroke="#73bf69" stroke-opacity="0.8" stroke-width="1.1"/>
<circle cx="499.9" cy="947.0" r="2.9" fill="#73bf69" fill-opacity="0.45" stroke="#73bf69" stroke-opacity="0.8" stroke-width="1.1"/>
<circle cx="502.5" cy="946.2" r="2.9" fill="#73bf69" fill-opacity="0.45" stroke="#73bf69" stroke-opacity="0.8" stroke-width="1.1"/>
<circle cx="498.0" cy="958.0" r="2.9" fill="#73bf69" fill-opacity="0.45" stroke="#73bf69" stroke-opacity="0.8" stroke-width="1.1"/>
<circle cx="505.9" cy="954.2" r="2.9" fill="#73bf69" fill-opacity="0.45" stroke="#73bf69" stroke-opacity="0.8" stroke-width="1.1"/>
<circle cx="508.9" cy="954.6" r="2.9" fill="#73bf69" fill-opacity="0.45" stroke="#73bf69" stroke-opacity="0.8" stroke-width="1.1"/>
<circle cx="511.7" cy="942.0" r="2.9" fill="#73bf69" fill-opacity="0.45" stroke="#73bf69" stroke-opacity="0.8" stroke-width="1.1"/>
<circle cx="514.5" cy="944.8" r="2.9" fill="#73bf69" fill-opacity="0.45" stroke="#73bf69" stroke-opacity="0.8" stroke-width="1.1"/>
<circle cx="519.7" cy="943.8" r="2.9" fill="#73bf69" fill-opacity="0.45" stroke="#73bf69" stroke-opacity="0.8" stroke-width="1.1"/>
<circle cx="524.5" cy="945.2" r="2.9" fill="#73bf69" fill-opacity="0.45" stroke="#73bf69" stroke-opacity="0.8" stroke-width="1.1"/>
<circle cx="514.1" cy="950.0" r="2.9" fill="#73bf69" fill-opacity="0.45" stroke="#73bf69" stroke-opacity="0.8" stroke-width="1.1"/>
<circle cx="516.1" cy="956.8" r="2.9" fill="#73bf69" fill-opacity="0.45" stroke="#73bf69" stroke-opacity="0.8" stroke-width="1.1"/>
<circle cx="517.1" cy="958.4" r="2.9" fill="#73bf69" fill-opacity="0.45" stroke="#73bf69" stroke-opacity="0.8" stroke-width="1.1"/>
<circle cx="529.7" cy="949.0" r="2.9" fill="#73bf69" fill-opacity="0.45" stroke="#73bf69" stroke-opacity="0.8" stroke-width="1.1"/>
<circle cx="536.5" cy="950.0" r="2.9" fill="#73bf69" fill-opacity="0.45" stroke="#73bf69" stroke-opacity="0.8" stroke-width="1.1"/>
<circle cx="543.5" cy="948.0" r="2.9" fill="#73bf69" fill-opacity="0.45" stroke="#73bf69" stroke-opacity="0.8" stroke-width="1.1"/>
<circle cx="530.5" cy="928.4" r="2.9" fill="#73bf69" fill-opacity="0.45" stroke="#73bf69" stroke-opacity="0.8" stroke-width="1.1"/>
<circle cx="527.9" cy="956.0" r="2.9" fill="#73bf69" fill-opacity="0.45" stroke="#73bf69" stroke-opacity="0.8" stroke-width="1.1"/>
<circle cx="524.5" cy="962.0" r="2.9" fill="#73bf69" fill-opacity="0.45" stroke="#73bf69" stroke-opacity="0.8" stroke-width="1.1"/>
<circle cx="533.7" cy="963.4" r="2.9" fill="#73bf69" fill-opacity="0.45" stroke="#73bf69" stroke-opacity="0.8" stroke-width="1.1"/>
<circle cx="529.7" cy="967.0" r="2.9" fill="#73bf69" fill-opacity="0.45" stroke="#73bf69" stroke-opacity="0.8" stroke-width="1.1"/>
<circle cx="537.7" cy="966.8" r="2.9" fill="#73bf69" fill-opacity="0.45" stroke="#73bf69" stroke-opacity="0.8" stroke-width="1.1"/>
<circle cx="495.8" cy="979.8" r="2.9" fill="#73bf69" fill-opacity="0.45" stroke="#73bf69" stroke-opacity="0.8" stroke-width="1.1"/>
<circle cx="505.5" cy="1014.9" r="2.9" fill="#73bf69" fill-opacity="0.45" stroke="#73bf69" stroke-opacity="0.8" stroke-width="1.1"/>
<circle cx="510.7" cy="1018.5" r="2.9" fill="#73bf69" fill-opacity="0.45" stroke="#73bf69" stroke-opacity="0.8" stroke-width="1.1"/>
<circle cx="526.7" cy="1010.6" r="2.9" fill="#73bf69" fill-opacity="0.45" stroke="#73bf69" stroke-opacity="0.8" stroke-width="1.1"/>
<circle cx="451.8" cy="1028.7" r="2.9" fill="#73bf69" fill-opacity="0.45" stroke="#73bf69" stroke-opacity="0.8" stroke-width="1.1"/>
<circle cx="460.6" cy="1052.7" r="2.9" fill="#73bf69" fill-opacity="0.45" stroke="#73bf69" stroke-opacity="0.8" stroke-width="1.1"/>
<circle cx="505.5" cy="1045.7" r="2.9" fill="#73bf69" fill-opacity="0.45" stroke="#73bf69" stroke-opacity="0.8" stroke-width="1.1"/>
<circle cx="536.5" cy="1057.7" r="2.9" fill="#73bf69" fill-opacity="0.45" stroke="#73bf69" stroke-opacity="0.8" stroke-width="1.1"/>
<circle cx="383.3" cy="1069.5" r="2.9" fill="#73bf69" fill-opacity="0.45" stroke="#73bf69" stroke-opacity="0.8" stroke-width="1.1"/>
<circle cx="401.4" cy="1067.7" r="2.9" fill="#73bf69" fill-opacity="0.45" stroke="#73bf69" stroke-opacity="0.8" stroke-width="1.1"/>
<circle cx="408.6" cy="1070.1" r="2.9" fill="#73bf69" fill-opacity="0.45" stroke="#73bf69" stroke-opacity="0.8" stroke-width="1.1"/>
<circle cx="559.3" cy="958.3" r="2.9" fill="#73bf69" fill-opacity="0.45" stroke="#73bf69" stroke-opacity="0.8" stroke-width="1.1"/>
<circle cx="562.3" cy="953.3" r="2.9" fill="#73bf69" fill-opacity="0.45" stroke="#73bf69" stroke-opacity="0.8" stroke-width="1.1"/>
<circle cx="568.1" cy="956.1" r="2.9" fill="#73bf69" fill-opacity="0.45" stroke="#73bf69" stroke-opacity="0.8" stroke-width="1.1"/>
<circle cx="570.1" cy="961.5" r="2.9" fill="#73bf69" fill-opacity="0.45" stroke="#73bf69" stroke-opacity="0.8" stroke-width="1.1"/>
<circle cx="576.8" cy="955.3" r="2.9" fill="#73bf69" fill-opacity="0.45" stroke="#73bf69" stroke-opacity="0.8" stroke-width="1.1"/>
<circle cx="575.8" cy="956.5" r="2.9" fill="#73bf69" fill-opacity="0.45" stroke="#73bf69" stroke-opacity="0.8" stroke-width="1.1"/>
<circle cx="578.8" cy="958.3" r="2.9" fill="#73bf69" fill-opacity="0.45" stroke="#73bf69" stroke-opacity="0.8" stroke-width="1.1"/>
<circle cx="582.1" cy="961.1" r="2.9" fill="#73bf69" fill-opacity="0.45" stroke="#73bf69" stroke-opacity="0.8" stroke-width="1.1"/>
<circle cx="586.3" cy="958.8" r="2.9" fill="#73bf69" fill-opacity="0.45" stroke="#73bf69" stroke-opacity="0.8" stroke-width="1.1"/>
<circle cx="589.3" cy="960.3" r="2.9" fill="#73bf69" fill-opacity="0.45" stroke="#73bf69" stroke-opacity="0.8" stroke-width="1.1"/>
<circle cx="588.3" cy="962.5" r="2.9" fill="#73bf69" fill-opacity="0.45" stroke="#73bf69" stroke-opacity="0.8" stroke-width="1.1"/>
<circle cx="581.6" cy="944.8" r="2.9" fill="#73bf69" fill-opacity="0.45" stroke="#73bf69" stroke-opacity="0.8" stroke-width="1.1"/>
<circle cx="588.3" cy="944.8" r="2.9" fill="#73bf69" fill-opacity="0.45" stroke="#73bf69" stroke-opacity="0.8" stroke-width="1.1"/>
<circle cx="584.4" cy="949.8" r="2.9" fill="#73bf69" fill-opacity="0.45" stroke="#73bf69" stroke-opacity="0.8" stroke-width="1.1"/>
<circle cx="610.9" cy="949.8" r="2.9" fill="#73bf69" fill-opacity="0.45" stroke="#73bf69" stroke-opacity="0.8" stroke-width="1.1"/>
<circle cx="597.3" cy="964.8" r="2.9" fill="#73bf69" fill-opacity="0.45" stroke="#73bf69" stroke-opacity="0.8" stroke-width="1.1"/>
<circle cx="600.8" cy="961.3" r="2.9" fill="#73bf69" fill-opacity="0.45" stroke="#73bf69" stroke-opacity="0.8" stroke-width="1.1"/>
<circle cx="600.8" cy="965.8" r="2.9" fill="#73bf69" fill-opacity="0.45" stroke="#73bf69" stroke-opacity="0.8" stroke-width="1.1"/>
<circle cx="610.9" cy="964.8" r="2.9" fill="#73bf69" fill-opacity="0.45" stroke="#73bf69" stroke-opacity="0.8" stroke-width="1.1"/>
<circle cx="616.4" cy="960.3" r="2.9" fill="#73bf69" fill-opacity="0.45" stroke="#73bf69" stroke-opacity="0.8" stroke-width="1.1"/>
<circle cx="616.4" cy="962.8" r="2.9" fill="#73bf69" fill-opacity="0.45" stroke="#73bf69" stroke-opacity="0.8" stroke-width="1.1"/>
<circle cx="616.1" cy="968.3" r="2.9" fill="#73bf69" fill-opacity="0.45" stroke="#73bf69" stroke-opacity="0.8" stroke-width="1.1"/>
<circle cx="601.8" cy="978.8" r="2.9" fill="#73bf69" fill-opacity="0.45" stroke="#73bf69" stroke-opacity="0.8" stroke-width="1.1"/>
<circle cx="613.9" cy="977.8" r="2.9" fill="#73bf69" fill-opacity="0.45" stroke="#73bf69" stroke-opacity="0.8" stroke-width="1.1"/>
<circle cx="619.2" cy="981.1" r="2.9" fill="#73bf69" fill-opacity="0.45" stroke="#73bf69" stroke-opacity="0.8" stroke-width="1.1"/>
<circle cx="623.2" cy="971.1" r="2.9" fill="#73bf69" fill-opacity="0.45" stroke="#73bf69" stroke-opacity="0.8" stroke-width="1.1"/>
<circle cx="628.6" cy="968.8" r="2.9" fill="#73bf69" fill-opacity="0.45" stroke="#73bf69" stroke-opacity="0.8" stroke-width="1.1"/>
<circle cx="627.6" cy="972.5" r="2.9" fill="#73bf69" fill-opacity="0.45" stroke="#73bf69" stroke-opacity="0.8" stroke-width="1.1"/>
<circle cx="632.9" cy="975.3" r="2.9" fill="#73bf69" fill-opacity="0.45" stroke="#73bf69" stroke-opacity="0.8" stroke-width="1.1"/>
<circle cx="636.9" cy="973.3" r="2.9" fill="#73bf69" fill-opacity="0.45" stroke="#73bf69" stroke-opacity="0.8" stroke-width="1.1"/>
<circle cx="637.4" cy="964.8" r="2.9" fill="#73bf69" fill-opacity="0.45" stroke="#73bf69" stroke-opacity="0.8" stroke-width="1.1"/>
<circle cx="637.9" cy="966.8" r="2.9" fill="#73bf69" fill-opacity="0.45" stroke="#73bf69" stroke-opacity="0.8" stroke-width="1.1"/>
<circle cx="643.4" cy="968.8" r="2.9" fill="#73bf69" fill-opacity="0.45" stroke="#73bf69" stroke-opacity="0.8" stroke-width="1.1"/>
<circle cx="643.9" cy="975.8" r="2.9" fill="#73bf69" fill-opacity="0.45" stroke="#73bf69" stroke-opacity="0.8" stroke-width="1.1"/>
<circle cx="643.9" cy="977.8" r="2.9" fill="#73bf69" fill-opacity="0.45" stroke="#73bf69" stroke-opacity="0.8" stroke-width="1.1"/>
<circle cx="654.9" cy="973.5" r="2.9" fill="#73bf69" fill-opacity="0.45" stroke="#73bf69" stroke-opacity="0.8" stroke-width="1.1"/>
<circle cx="569.1" cy="1028.6" r="2.9" fill="#73bf69" fill-opacity="0.45" stroke="#73bf69" stroke-opacity="0.8" stroke-width="1.1"/>
<circle cx="563.3" cy="1039.9" r="2.9" fill="#73bf69" fill-opacity="0.45" stroke="#73bf69" stroke-opacity="0.8" stroke-width="1.1"/>
<circle cx="566.6" cy="1043.9" r="2.9" fill="#73bf69" fill-opacity="0.45" stroke="#73bf69" stroke-opacity="0.8" stroke-width="1.1"/>
<circle cx="579.6" cy="1042.6" r="2.9" fill="#73bf69" fill-opacity="0.45" stroke="#73bf69" stroke-opacity="0.8" stroke-width="1.1"/>
<circle cx="623.1" cy="1027.4" r="2.9" fill="#73bf69" fill-opacity="0.45" stroke="#73bf69" stroke-opacity="0.8" stroke-width="1.1"/>
<circle cx="658.6" cy="1045.9" r="2.9" fill="#73bf69" fill-opacity="0.45" stroke="#73bf69" stroke-opacity="0.8" stroke-width="1.1"/>
<circle cx="664.0" cy="963.4" r="2.9" fill="#73bf69" fill-opacity="0.45" stroke="#73bf69" stroke-opacity="0.8" stroke-width="1.1"/>
<circle cx="665.4" cy="970.0" r="2.9" fill="#73bf69" fill-opacity="0.45" stroke="#73bf69" stroke-opacity="0.8" stroke-width="1.1"/>
<circle cx="668.0" cy="973.0" r="2.9" fill="#73bf69" fill-opacity="0.45" stroke="#73bf69" stroke-opacity="0.8" stroke-width="1.1"/>
<circle cx="672.4" cy="962.0" r="2.9" fill="#73bf69" fill-opacity="0.45" stroke="#73bf69" stroke-opacity="0.8" stroke-width="1.1"/>
<circle cx="677.0" cy="961.8" r="2.9" fill="#73bf69" fill-opacity="0.45" stroke="#73bf69" stroke-opacity="0.8" stroke-width="1.1"/>
<circle cx="674.8" cy="969.0" r="2.9" fill="#73bf69" fill-opacity="0.45" stroke="#73bf69" stroke-opacity="0.8" stroke-width="1.1"/>
<circle cx="674.8" cy="973.0" r="2.9" fill="#73bf69" fill-opacity="0.45" stroke="#73bf69" stroke-opacity="0.8" stroke-width="1.1"/>
<circle cx="680.8" cy="955.6" r="2.9" fill="#73bf69" fill-opacity="0.45" stroke="#73bf69" stroke-opacity="0.8" stroke-width="1.1"/>
<circle cx="690.4" cy="966.4" r="2.9" fill="#73bf69" fill-opacity="0.45" stroke="#73bf69" stroke-opacity="0.8" stroke-width="1.1"/>
<circle cx="682.2" cy="977.8" r="2.9" fill="#73bf69" fill-opacity="0.45" stroke="#73bf69" stroke-opacity="0.8" stroke-width="1.1"/>
<circle cx="663.6" cy="988.4" r="2.9" fill="#73bf69" fill-opacity="0.45" stroke="#73bf69" stroke-opacity="0.8" stroke-width="1.1"/>
<circle cx="674.4" cy="988.8" r="2.9" fill="#73bf69" fill-opacity="0.45" stroke="#73bf69" stroke-opacity="0.8" stroke-width="1.1"/>
<circle cx="689.4" cy="983.8" r="2.9" fill="#73bf69" fill-opacity="0.45" stroke="#73bf69" stroke-opacity="0.8" stroke-width="1.1"/>
<circle cx="692.2" cy="987.2" r="2.9" fill="#73bf69" fill-opacity="0.45" stroke="#73bf69" stroke-opacity="0.8" stroke-width="1.1"/>
<circle cx="705.2" cy="973.2" r="2.9" fill="#73bf69" fill-opacity="0.45" stroke="#73bf69" stroke-opacity="0.8" stroke-width="1.1"/>
<circle cx="705.8" cy="980.0" r="2.9" fill="#73bf69" fill-opacity="0.45" stroke="#73bf69" stroke-opacity="0.8" stroke-width="1.1"/>
<circle cx="707.7" cy="984.4" r="2.9" fill="#73bf69" fill-opacity="0.45" stroke="#73bf69" stroke-opacity="0.8" stroke-width="1.1"/>
<circle cx="716.1" cy="984.4" r="2.9" fill="#73bf69" fill-opacity="0.45" stroke="#73bf69" stroke-opacity="0.8" stroke-width="1.1"/>
<circle cx="721.5" cy="977.4" r="2.9" fill="#73bf69" fill-opacity="0.45" stroke="#73bf69" stroke-opacity="0.8" stroke-width="1.1"/>
<circle cx="688.4" cy="1016.5" r="2.9" fill="#73bf69" fill-opacity="0.45" stroke="#73bf69" stroke-opacity="0.8" stroke-width="1.1"/>
<circle cx="694.6" cy="1019.9" r="2.9" fill="#73bf69" fill-opacity="0.45" stroke="#73bf69" stroke-opacity="0.8" stroke-width="1.1"/>
<circle cx="675.0" cy="1031.1" r="2.9" fill="#73bf69" fill-opacity="0.45" stroke="#73bf69" stroke-opacity="0.8" stroke-width="1.1"/>
<circle cx="720.1" cy="1034.5" r="2.9" fill="#73bf69" fill-opacity="0.45" stroke="#73bf69" stroke-opacity="0.8" stroke-width="1.1"/>
<circle cx="718.5" cy="1038.5" r="2.9" fill="#73bf69" fill-opacity="0.45" stroke="#73bf69" stroke-opacity="0.8" stroke-width="1.1"/>
<circle cx="711.1" cy="1046.3" r="2.9" fill="#73bf69" fill-opacity="0.45" stroke="#73bf69" stroke-opacity="0.8" stroke-width="1.1"/>
<circle cx="723.5" cy="1051.5" r="2.9" fill="#73bf69" fill-opacity="0.45" stroke="#73bf69" stroke-opacity="0.8" stroke-width="1.1"/>
<circle cx="676.4" cy="1056.1" r="2.9" fill="#73bf69" fill-opacity="0.45" stroke="#73bf69" stroke-opacity="0.8" stroke-width="1.1"/>
<circle cx="704.6" cy="1068.9" r="2.9" fill="#73bf69" fill-opacity="0.45" stroke="#73bf69" stroke-opacity="0.8" stroke-width="1.1"/>
<circle cx="743.9" cy="971.4" r="2.9" fill="#73bf69" fill-opacity="0.45" stroke="#73bf69" stroke-opacity="0.8" stroke-width="1.1"/>
<circle cx="755.9" cy="976.6" r="2.9" fill="#73bf69" fill-opacity="0.45" stroke="#73bf69" stroke-opacity="0.8" stroke-width="1.1"/>
<circle cx="737.1" cy="985.8" r="2.9" fill="#73bf69" fill-opacity="0.45" stroke="#73bf69" stroke-opacity="0.8" stroke-width="1.1"/>
<circle cx="740.1" cy="990.4" r="2.9" fill="#73bf69" fill-opacity="0.45" stroke="#73bf69" stroke-opacity="0.8" stroke-width="1.1"/>
<circle cx="751.5" cy="989.0" r="2.9" fill="#73bf69" fill-opacity="0.45" stroke="#73bf69" stroke-opacity="0.8" stroke-width="1.1"/>
<circle cx="735.5" cy="997.2" r="2.9" fill="#73bf69" fill-opacity="0.45" stroke="#73bf69" stroke-opacity="0.8" stroke-width="1.1"/>
<circle cx="740.5" cy="1005.6" r="2.9" fill="#73bf69" fill-opacity="0.45" stroke="#73bf69" stroke-opacity="0.8" stroke-width="1.1"/>
<circle cx="757.5" cy="999.2" r="2.9" fill="#73bf69" fill-opacity="0.45" stroke="#73bf69" stroke-opacity="0.8" stroke-width="1.1"/>
<circle cx="765.5" cy="994.8" r="2.9" fill="#73bf69" fill-opacity="0.45" stroke="#73bf69" stroke-opacity="0.8" stroke-width="1.1"/>
<circle cx="741.7" cy="1015.5" r="2.9" fill="#73bf69" fill-opacity="0.45" stroke="#73bf69" stroke-opacity="0.8" stroke-width="1.1"/>
<circle cx="762.9" cy="1010.8" r="2.9" fill="#73bf69" fill-opacity="0.45" stroke="#73bf69" stroke-opacity="0.8" stroke-width="1.1"/>
<circle cx="766.5" cy="1008.4" r="2.9" fill="#73bf69" fill-opacity="0.45" stroke="#73bf69" stroke-opacity="0.8" stroke-width="1.1"/>
<circle cx="764.9" cy="1024.5" r="2.9" fill="#73bf69" fill-opacity="0.45" stroke="#73bf69" stroke-opacity="0.8" stroke-width="1.1"/>
<circle cx="751.7" cy="1031.1" r="2.9" fill="#73bf69" fill-opacity="0.45" stroke="#73bf69" stroke-opacity="0.8" stroke-width="1.1"/>
<circle cx="741.7" cy="1038.7" r="2.9" fill="#73bf69" fill-opacity="0.45" stroke="#73bf69" stroke-opacity="0.8" stroke-width="1.1"/>
<circle cx="794.7" cy="985.4" r="2.9" fill="#73bf69" fill-opacity="0.45" stroke="#73bf69" stroke-opacity="0.8" stroke-width="1.1"/>
<circle cx="787.7" cy="997.4" r="2.9" fill="#73bf69" fill-opacity="0.45" stroke="#73bf69" stroke-opacity="0.8" stroke-width="1.1"/>
<circle cx="785.5" cy="1022.5" r="2.9" fill="#73bf69" fill-opacity="0.45" stroke="#73bf69" stroke-opacity="0.8" stroke-width="1.1"/>
<circle cx="819.0" cy="990.6" r="2.9" fill="#73bf69" fill-opacity="0.45" stroke="#73bf69" stroke-opacity="0.8" stroke-width="1.1"/>
<circle cx="821.0" cy="999.6" r="2.9" fill="#73bf69" fill-opacity="0.45" stroke="#73bf69" stroke-opacity="0.8" stroke-width="1.1"/>
<circle cx="811.9" cy="1004.2" r="2.9" fill="#73bf69" fill-opacity="0.45" stroke="#73bf69" stroke-opacity="0.8" stroke-width="1.1"/>
<circle cx="829.0" cy="1001.0" r="2.9" fill="#73bf69" fill-opacity="0.45" stroke="#73bf69" stroke-opacity="0.8" stroke-width="1.1"/>
<circle cx="837.8" cy="1000.4" r="2.9" fill="#73bf69" fill-opacity="0.45" stroke="#73bf69" stroke-opacity="0.8" stroke-width="1.1"/>
<circle cx="847.8" cy="988.4" r="2.9" fill="#73bf69" fill-opacity="0.45" stroke="#73bf69" stroke-opacity="0.8" stroke-width="1.1"/>
<circle cx="854.4" cy="998.6" r="2.9" fill="#73bf69" fill-opacity="0.45" stroke="#73bf69" stroke-opacity="0.8" stroke-width="1.1"/>
<circle cx="864.8" cy="1000.2" r="2.9" fill="#73bf69" fill-opacity="0.45" stroke="#73bf69" stroke-opacity="0.8" stroke-width="1.1"/>
<circle cx="860.0" cy="1008.6" r="2.9" fill="#73bf69" fill-opacity="0.45" stroke="#73bf69" stroke-opacity="0.8" stroke-width="1.1"/>
<circle cx="871.2" cy="989.2" r="2.9" fill="#73bf69" fill-opacity="0.45" stroke="#73bf69" stroke-opacity="0.8" stroke-width="1.1"/>
<circle cx="877.6" cy="993.6" r="2.9" fill="#73bf69" fill-opacity="0.45" stroke="#73bf69" stroke-opacity="0.8" stroke-width="1.1"/>
<circle cx="884.8" cy="999.0" r="2.9" fill="#73bf69" fill-opacity="0.45" stroke="#73bf69" stroke-opacity="0.8" stroke-width="1.1"/>
<circle cx="906.4" cy="998.0" r="2.9" fill="#73bf69" fill-opacity="0.45" stroke="#73bf69" stroke-opacity="0.8" stroke-width="1.1"/>
<circle cx="895.6" cy="1011.8" r="2.9" fill="#73bf69" fill-opacity="0.45" stroke="#73bf69" stroke-opacity="0.8" stroke-width="1.1"/>
<circle cx="901.0" cy="1014.9" r="2.9" fill="#73bf69" fill-opacity="0.45" stroke="#73bf69" stroke-opacity="0.8" stroke-width="1.1"/>
<circle cx="899.2" cy="1018.7" r="2.9" fill="#73bf69" fill-opacity="0.45" stroke="#73bf69" stroke-opacity="0.8" stroke-width="1.1"/>
<circle cx="913.2" cy="1020.1" r="2.9" fill="#73bf69" fill-opacity="0.45" stroke="#73bf69" stroke-opacity="0.8" stroke-width="1.1"/>
<circle cx="914.5" cy="1019.9" r="2.9" fill="#73bf69" fill-opacity="0.45" stroke="#73bf69" stroke-opacity="0.8" stroke-width="1.1"/>
<circle cx="922.5" cy="1019.9" r="2.9" fill="#73bf69" fill-opacity="0.45" stroke="#73bf69" stroke-opacity="0.8" stroke-width="1.1"/>
<circle cx="927.7" cy="1018.5" r="2.9" fill="#73bf69" fill-opacity="0.45" stroke="#73bf69" stroke-opacity="0.8" stroke-width="1.1"/>
<circle cx="929.7" cy="1020.9" r="2.9" fill="#73bf69" fill-opacity="0.45" stroke="#73bf69" stroke-opacity="0.8" stroke-width="1.1"/>
<circle cx="933.7" cy="1019.5" r="2.9" fill="#73bf69" fill-opacity="0.45" stroke="#73bf69" stroke-opacity="0.8" stroke-width="1.1"/>
<circle cx="933.7" cy="1030.7" r="2.9" fill="#73bf69" fill-opacity="0.45" stroke="#73bf69" stroke-opacity="0.8" stroke-width="1.1"/>
<circle cx="951.5" cy="1030.7" r="2.9" fill="#73bf69" fill-opacity="0.45" stroke="#73bf69" stroke-opacity="0.8" stroke-width="1.1"/>
<circle cx="959.3" cy="1042.5" r="2.9" fill="#73bf69" fill-opacity="0.45" stroke="#73bf69" stroke-opacity="0.8" stroke-width="1.1"/>
<circle cx="948.9" cy="1051.7" r="2.9" fill="#73bf69" fill-opacity="0.45" stroke="#73bf69" stroke-opacity="0.8" stroke-width="1.1"/>
<circle cx="951.9" cy="1070.5" r="2.9" fill="#73bf69" fill-opacity="0.45" stroke="#73bf69" stroke-opacity="0.8" stroke-width="1.1"/>
<circle cx="854.0" cy="1028.9" r="2.9" fill="#73bf69" fill-opacity="0.45" stroke="#73bf69" stroke-opacity="0.8" stroke-width="1.1"/>
<circle cx="859.8" cy="1032.1" r="2.9" fill="#73bf69" fill-opacity="0.45" stroke="#73bf69" stroke-opacity="0.8" stroke-width="1.1"/>
<circle cx="875.4" cy="1031.1" r="2.9" fill="#73bf69" fill-opacity="0.45" stroke="#73bf69" stroke-opacity="0.8" stroke-width="1.1"/>
<circle cx="883.2" cy="1031.7" r="2.9" fill="#73bf69" fill-opacity="0.45" stroke="#73bf69" stroke-opacity="0.8" stroke-width="1.1"/>
<circle cx="887.4" cy="1026.7" r="2.9" fill="#73bf69" fill-opacity="0.45" stroke="#73bf69" stroke-opacity="0.8" stroke-width="1.1"/>
<circle cx="870.4" cy="1044.1" r="2.9" fill="#73bf69" fill-opacity="0.45" stroke="#73bf69" stroke-opacity="0.8" stroke-width="1.1"/>
<circle cx="842.6" cy="1046.5" r="2.9" fill="#73bf69" fill-opacity="0.45" stroke="#73bf69" stroke-opacity="0.8" stroke-width="1.1"/>
<circle cx="851.4" cy="1056.1" r="2.9" fill="#73bf69" fill-opacity="0.45" stroke="#73bf69" stroke-opacity="0.8" stroke-width="1.1"/>
<circle cx="903.4" cy="1053.3" r="2.9" fill="#73bf69" fill-opacity="0.45" stroke="#73bf69" stroke-opacity="0.8" stroke-width="1.1"/>
<rect x="18.8" y="1166.8" width="17" height="4.8" rx="2.4" fill="#73bf69"/>
<text x="45.00" y="1174.80" text-anchor="start" font-size="15" >Menovesi (Ouman)</text>
</svg></body></html>
